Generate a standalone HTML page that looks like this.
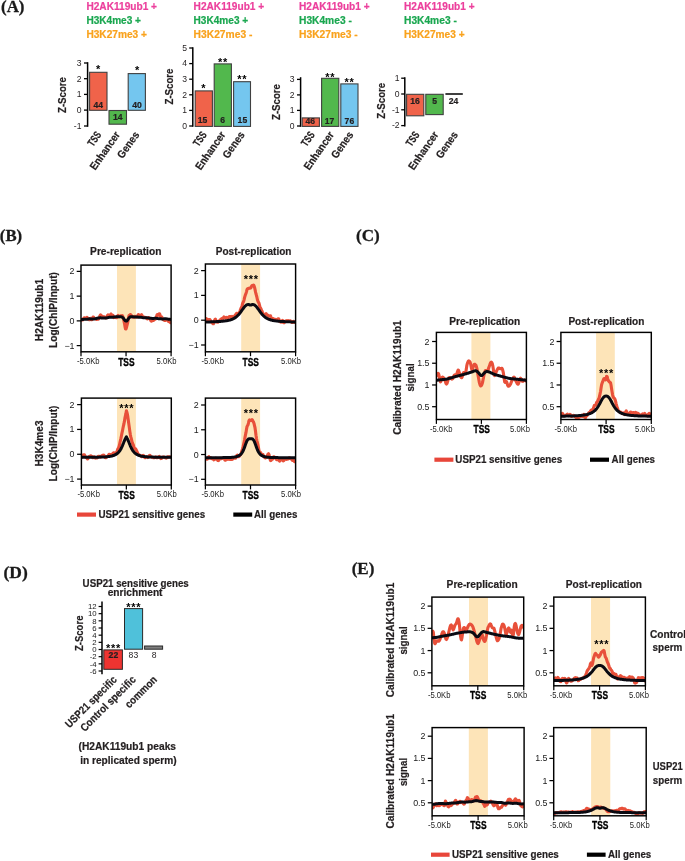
<!DOCTYPE html>
<html lang="en"><head><meta charset="utf-8"><title>Figure</title>
<style>
html,body{margin:0;padding:0;background:#fff;}
body{width:685px;height:861px;overflow:hidden;}
svg{display:block;font-family:"Liberation Sans", sans-serif;}
text{white-space:pre;}
</style></head><body>
<svg width="685" height="861" viewBox="0 0 685 861">
<rect width="685" height="861" fill="#fff"/>
<text x="1.00" y="11.80" font-size="17" font-weight="bold" fill="#1a1a1a" textLength="23.50" lengthAdjust="spacingAndGlyphs" font-family='"Liberation Serif", serif' stroke="#1a1a1a" stroke-width="0.3">(A)</text>
<text x="-0.20" y="241.00" font-size="17" font-weight="bold" fill="#1a1a1a" textLength="22.30" lengthAdjust="spacingAndGlyphs" font-family='"Liberation Serif", serif' stroke="#1a1a1a" stroke-width="0.3">(B)</text>
<text x="356.00" y="240.80" font-size="17" font-weight="bold" fill="#1a1a1a" textLength="23.70" lengthAdjust="spacingAndGlyphs" font-family='"Liberation Serif", serif' stroke="#1a1a1a" stroke-width="0.3">(C)</text>
<text x="3.50" y="578.10" font-size="17" font-weight="bold" fill="#1a1a1a" textLength="24.20" lengthAdjust="spacingAndGlyphs" font-family='"Liberation Serif", serif' stroke="#1a1a1a" stroke-width="0.3">(D)</text>
<text x="351.70" y="574.40" font-size="17" font-weight="bold" fill="#1a1a1a" textLength="22.70" lengthAdjust="spacingAndGlyphs" font-family='"Liberation Serif", serif' stroke="#1a1a1a" stroke-width="0.3">(E)</text>
<text x="86.40" y="9.60" font-size="11" font-weight="bold" fill="#ec3f9c" textLength="70.60" lengthAdjust="spacingAndGlyphs" stroke="#ec3f9c" stroke-width="0.22" stroke-linejoin="round">H2AK119ub1 +</text>
<text x="86.40" y="23.60" font-size="11" font-weight="bold" fill="#1aa750" textLength="54.60" lengthAdjust="spacingAndGlyphs" stroke="#1aa750" stroke-width="0.22" stroke-linejoin="round">H3K4me3 +</text>
<text x="86.40" y="37.60" font-size="11" font-weight="bold" fill="#f9a21c" textLength="60.60" lengthAdjust="spacingAndGlyphs" stroke="#f9a21c" stroke-width="0.22" stroke-linejoin="round">H3K27me3 +</text>
<text x="193.60" y="9.60" font-size="11" font-weight="bold" fill="#ec3f9c" textLength="70.60" lengthAdjust="spacingAndGlyphs" stroke="#ec3f9c" stroke-width="0.22" stroke-linejoin="round">H2AK119ub1 +</text>
<text x="193.60" y="23.60" font-size="11" font-weight="bold" fill="#1aa750" textLength="54.60" lengthAdjust="spacingAndGlyphs" stroke="#1aa750" stroke-width="0.22" stroke-linejoin="round">H3K4me3 +</text>
<text x="193.60" y="37.60" font-size="11" font-weight="bold" fill="#f9a21c" textLength="58.80" lengthAdjust="spacingAndGlyphs" stroke="#f9a21c" stroke-width="0.22" stroke-linejoin="round">H3K27me3 -</text>
<text x="299.00" y="9.60" font-size="11" font-weight="bold" fill="#ec3f9c" textLength="70.60" lengthAdjust="spacingAndGlyphs" stroke="#ec3f9c" stroke-width="0.22" stroke-linejoin="round">H2AK119ub1 +</text>
<text x="299.00" y="23.60" font-size="11" font-weight="bold" fill="#1aa750" textLength="52.80" lengthAdjust="spacingAndGlyphs" stroke="#1aa750" stroke-width="0.22" stroke-linejoin="round">H3K4me3 -</text>
<text x="299.00" y="37.60" font-size="11" font-weight="bold" fill="#f9a21c" textLength="58.80" lengthAdjust="spacingAndGlyphs" stroke="#f9a21c" stroke-width="0.22" stroke-linejoin="round">H3K27me3 -</text>
<text x="404.00" y="9.60" font-size="11" font-weight="bold" fill="#ec3f9c" textLength="70.60" lengthAdjust="spacingAndGlyphs" stroke="#ec3f9c" stroke-width="0.22" stroke-linejoin="round">H2AK119ub1 +</text>
<text x="404.00" y="23.60" font-size="11" font-weight="bold" fill="#1aa750" textLength="52.80" lengthAdjust="spacingAndGlyphs" stroke="#1aa750" stroke-width="0.22" stroke-linejoin="round">H3K4me3 -</text>
<text x="404.00" y="37.60" font-size="11" font-weight="bold" fill="#f9a21c" textLength="60.60" lengthAdjust="spacingAndGlyphs" stroke="#f9a21c" stroke-width="0.22" stroke-linejoin="round">H3K27me3 +</text>
<line x1="87.60" y1="62.20" x2="87.60" y2="126.80" stroke="#000" stroke-width="1.5" stroke-linecap="butt"/>
<line x1="84.00" y1="63.00" x2="87.60" y2="63.00" stroke="#000" stroke-width="1.3" stroke-linecap="butt"/>
<text x="81.50" y="65.80" font-size="8.6" font-weight="normal" fill="#231f20" text-anchor="end">3</text>
<line x1="84.00" y1="78.70" x2="87.60" y2="78.70" stroke="#000" stroke-width="1.3" stroke-linecap="butt"/>
<text x="81.50" y="81.50" font-size="8.6" font-weight="normal" fill="#231f20" text-anchor="end">2</text>
<line x1="84.00" y1="94.40" x2="87.60" y2="94.40" stroke="#000" stroke-width="1.3" stroke-linecap="butt"/>
<text x="81.50" y="97.20" font-size="8.6" font-weight="normal" fill="#231f20" text-anchor="end">1</text>
<line x1="84.00" y1="110.10" x2="87.60" y2="110.10" stroke="#000" stroke-width="1.3" stroke-linecap="butt"/>
<text x="81.50" y="112.90" font-size="8.6" font-weight="normal" fill="#231f20" text-anchor="end">0</text>
<line x1="84.00" y1="126.00" x2="87.60" y2="126.00" stroke="#000" stroke-width="1.3" stroke-linecap="butt"/>
<text x="81.50" y="128.80" font-size="8.6" font-weight="normal" fill="#231f20" text-anchor="end">-1</text>
<text x="65.80" y="95.00" font-size="10.7" font-weight="bold" fill="#231f20" text-anchor="middle" textLength="36.00" lengthAdjust="spacingAndGlyphs" stroke="#231f20" stroke-width="0.22" stroke-linejoin="round" transform="rotate(-90 65.80 95.00)">Z-Score</text>
<rect x="89.60" y="72.30" width="17.40" height="38.00" fill="#f0634a" stroke="#404040" stroke-width="1.1"/>
<rect x="109.00" y="110.50" width="17.50" height="13.70" fill="#52b84d" stroke="#404040" stroke-width="1.1"/>
<rect x="128.20" y="73.60" width="17.20" height="36.70" fill="#74c6ef" stroke="#404040" stroke-width="1.1"/>
<text x="98.20" y="108.10" font-size="8.6" font-weight="bold" fill="#231f20" text-anchor="middle" stroke="#231f20" stroke-width="0.22" stroke-linejoin="round">44</text>
<text x="117.70" y="120.10" font-size="8.6" font-weight="bold" fill="#231f20" text-anchor="middle" stroke="#231f20" stroke-width="0.22" stroke-linejoin="round">14</text>
<text x="137.00" y="108.10" font-size="8.6" font-weight="bold" fill="#231f20" text-anchor="middle" stroke="#231f20" stroke-width="0.22" stroke-linejoin="round">40</text>
<text x="98.55" y="73.00" font-size="11" font-weight="bold" fill="#000" text-anchor="middle" letter-spacing="0.7">*</text>
<text x="137.45" y="74.40" font-size="11" font-weight="bold" fill="#000" text-anchor="middle" letter-spacing="0.7">*</text>
<text x="101.80" y="134.70" font-size="10.9" font-weight="bold" fill="#231f20" text-anchor="end" textLength="15.30" lengthAdjust="spacingAndGlyphs" stroke="#231f20" stroke-width="0.22" stroke-linejoin="round" transform="rotate(-55 101.80 134.70)">TSS</text>
<text x="120.50" y="134.70" font-size="10.9" font-weight="bold" fill="#231f20" text-anchor="end" textLength="44.00" lengthAdjust="spacingAndGlyphs" stroke="#231f20" stroke-width="0.22" stroke-linejoin="round" transform="rotate(-55 120.50 134.70)">Enhancer</text>
<text x="139.80" y="134.70" font-size="10.9" font-weight="bold" fill="#231f20" text-anchor="end" textLength="30.00" lengthAdjust="spacingAndGlyphs" stroke="#231f20" stroke-width="0.22" stroke-linejoin="round" transform="rotate(-55 139.80 134.70)">Genes</text>
<line x1="192.80" y1="47.20" x2="192.80" y2="126.80" stroke="#000" stroke-width="1.5" stroke-linecap="butt"/>
<line x1="189.20" y1="48.00" x2="192.80" y2="48.00" stroke="#000" stroke-width="1.3" stroke-linecap="butt"/>
<text x="187.00" y="50.80" font-size="8.6" font-weight="normal" fill="#231f20" text-anchor="end">5</text>
<line x1="189.20" y1="63.60" x2="192.80" y2="63.60" stroke="#000" stroke-width="1.3" stroke-linecap="butt"/>
<text x="187.00" y="66.40" font-size="8.6" font-weight="normal" fill="#231f20" text-anchor="end">4</text>
<line x1="189.20" y1="79.20" x2="192.80" y2="79.20" stroke="#000" stroke-width="1.3" stroke-linecap="butt"/>
<text x="187.00" y="82.00" font-size="8.6" font-weight="normal" fill="#231f20" text-anchor="end">3</text>
<line x1="189.20" y1="94.80" x2="192.80" y2="94.80" stroke="#000" stroke-width="1.3" stroke-linecap="butt"/>
<text x="187.00" y="97.60" font-size="8.6" font-weight="normal" fill="#231f20" text-anchor="end">2</text>
<line x1="189.20" y1="110.40" x2="192.80" y2="110.40" stroke="#000" stroke-width="1.3" stroke-linecap="butt"/>
<text x="187.00" y="113.20" font-size="8.6" font-weight="normal" fill="#231f20" text-anchor="end">1</text>
<line x1="189.20" y1="126.00" x2="192.80" y2="126.00" stroke="#000" stroke-width="1.3" stroke-linecap="butt"/>
<text x="187.00" y="128.80" font-size="8.6" font-weight="normal" fill="#231f20" text-anchor="end">0</text>
<text x="172.80" y="86.50" font-size="10.7" font-weight="bold" fill="#231f20" text-anchor="middle" textLength="36.00" lengthAdjust="spacingAndGlyphs" stroke="#231f20" stroke-width="0.22" stroke-linejoin="round" transform="rotate(-90 172.80 86.50)">Z-Score</text>
<rect x="195.20" y="90.90" width="17.20" height="35.50" fill="#f0634a" stroke="#404040" stroke-width="1.1"/>
<rect x="214.20" y="63.90" width="17.20" height="62.50" fill="#52b84d" stroke="#404040" stroke-width="1.1"/>
<rect x="233.60" y="81.70" width="16.90" height="44.70" fill="#74c6ef" stroke="#404040" stroke-width="1.1"/>
<text x="202.60" y="122.80" font-size="8.6" font-weight="bold" fill="#231f20" text-anchor="middle" stroke="#231f20" stroke-width="0.22" stroke-linejoin="round">15</text>
<text x="222.60" y="122.80" font-size="8.6" font-weight="bold" fill="#231f20" text-anchor="middle" stroke="#231f20" stroke-width="0.22" stroke-linejoin="round">6</text>
<text x="242.40" y="122.80" font-size="8.6" font-weight="bold" fill="#231f20" text-anchor="middle" stroke="#231f20" stroke-width="0.22" stroke-linejoin="round">15</text>
<text x="203.75" y="92.20" font-size="11" font-weight="bold" fill="#000" text-anchor="middle" letter-spacing="0.7">*</text>
<text x="222.95" y="66.00" font-size="11" font-weight="bold" fill="#000" text-anchor="middle" letter-spacing="0.7">**</text>
<text x="242.35" y="83.20" font-size="11" font-weight="bold" fill="#000" text-anchor="middle" letter-spacing="0.7">**</text>
<text x="207.20" y="134.70" font-size="10.9" font-weight="bold" fill="#231f20" text-anchor="end" textLength="15.30" lengthAdjust="spacingAndGlyphs" stroke="#231f20" stroke-width="0.22" stroke-linejoin="round" transform="rotate(-55 207.20 134.70)">TSS</text>
<text x="226.00" y="134.70" font-size="10.9" font-weight="bold" fill="#231f20" text-anchor="end" textLength="44.00" lengthAdjust="spacingAndGlyphs" stroke="#231f20" stroke-width="0.22" stroke-linejoin="round" transform="rotate(-55 226.00 134.70)">Enhancer</text>
<text x="245.20" y="134.70" font-size="10.9" font-weight="bold" fill="#231f20" text-anchor="end" textLength="30.00" lengthAdjust="spacingAndGlyphs" stroke="#231f20" stroke-width="0.22" stroke-linejoin="round" transform="rotate(-55 245.20 134.70)">Genes</text>
<line x1="300.60" y1="77.20" x2="300.60" y2="126.80" stroke="#000" stroke-width="1.5" stroke-linecap="butt"/>
<line x1="297.00" y1="79.40" x2="300.60" y2="79.40" stroke="#000" stroke-width="1.3" stroke-linecap="butt"/>
<text x="294.50" y="82.20" font-size="8.6" font-weight="normal" fill="#231f20" text-anchor="end">3</text>
<line x1="297.00" y1="94.90" x2="300.60" y2="94.90" stroke="#000" stroke-width="1.3" stroke-linecap="butt"/>
<text x="294.50" y="97.70" font-size="8.6" font-weight="normal" fill="#231f20" text-anchor="end">2</text>
<line x1="297.00" y1="110.40" x2="300.60" y2="110.40" stroke="#000" stroke-width="1.3" stroke-linecap="butt"/>
<text x="294.50" y="113.20" font-size="8.6" font-weight="normal" fill="#231f20" text-anchor="end">1</text>
<line x1="297.00" y1="126.00" x2="300.60" y2="126.00" stroke="#000" stroke-width="1.3" stroke-linecap="butt"/>
<text x="294.50" y="128.80" font-size="8.6" font-weight="normal" fill="#231f20" text-anchor="end">0</text>
<text x="280.40" y="102.00" font-size="10.7" font-weight="bold" fill="#231f20" text-anchor="middle" textLength="36.00" lengthAdjust="spacingAndGlyphs" stroke="#231f20" stroke-width="0.22" stroke-linejoin="round" transform="rotate(-90 280.40 102.00)">Z-Score</text>
<rect x="302.20" y="117.90" width="17.20" height="8.50" fill="#f0634a" stroke="#404040" stroke-width="1.1"/>
<rect x="321.60" y="78.30" width="17.20" height="48.10" fill="#52b84d" stroke="#404040" stroke-width="1.1"/>
<rect x="340.80" y="83.90" width="17.20" height="42.50" fill="#74c6ef" stroke="#404040" stroke-width="1.1"/>
<text x="310.20" y="124.40" font-size="8.6" font-weight="bold" fill="#231f20" text-anchor="middle" stroke="#231f20" stroke-width="0.22" stroke-linejoin="round">46</text>
<text x="329.60" y="124.40" font-size="8.6" font-weight="bold" fill="#231f20" text-anchor="middle" stroke="#231f20" stroke-width="0.22" stroke-linejoin="round">17</text>
<text x="349.40" y="124.40" font-size="8.6" font-weight="bold" fill="#231f20" text-anchor="middle" stroke="#231f20" stroke-width="0.22" stroke-linejoin="round">76</text>
<text x="330.35" y="81.00" font-size="11" font-weight="bold" fill="#000" text-anchor="middle" letter-spacing="0.7">**</text>
<text x="349.55" y="86.20" font-size="11" font-weight="bold" fill="#000" text-anchor="middle" letter-spacing="0.7">**</text>
<text x="315.30" y="134.70" font-size="10.9" font-weight="bold" fill="#231f20" text-anchor="end" textLength="15.30" lengthAdjust="spacingAndGlyphs" stroke="#231f20" stroke-width="0.22" stroke-linejoin="round" transform="rotate(-55 315.30 134.70)">TSS</text>
<text x="334.50" y="134.70" font-size="10.9" font-weight="bold" fill="#231f20" text-anchor="end" textLength="44.00" lengthAdjust="spacingAndGlyphs" stroke="#231f20" stroke-width="0.22" stroke-linejoin="round" transform="rotate(-55 334.50 134.70)">Enhancer</text>
<text x="353.80" y="134.70" font-size="10.9" font-weight="bold" fill="#231f20" text-anchor="end" textLength="30.00" lengthAdjust="spacingAndGlyphs" stroke="#231f20" stroke-width="0.22" stroke-linejoin="round" transform="rotate(-55 353.80 134.70)">Genes</text>
<line x1="404.80" y1="77.20" x2="404.80" y2="126.60" stroke="#000" stroke-width="1.5" stroke-linecap="butt"/>
<line x1="401.20" y1="78.20" x2="404.80" y2="78.20" stroke="#000" stroke-width="1.3" stroke-linecap="butt"/>
<text x="399.60" y="81.00" font-size="8.6" font-weight="normal" fill="#231f20" text-anchor="end">1</text>
<line x1="401.20" y1="94.00" x2="404.80" y2="94.00" stroke="#000" stroke-width="1.3" stroke-linecap="butt"/>
<text x="399.60" y="96.80" font-size="8.6" font-weight="normal" fill="#231f20" text-anchor="end">0</text>
<line x1="401.20" y1="109.80" x2="404.80" y2="109.80" stroke="#000" stroke-width="1.3" stroke-linecap="butt"/>
<text x="399.60" y="112.60" font-size="8.6" font-weight="normal" fill="#231f20" text-anchor="end">-1</text>
<line x1="401.20" y1="125.60" x2="404.80" y2="125.60" stroke="#000" stroke-width="1.3" stroke-linecap="butt"/>
<text x="399.60" y="128.40" font-size="8.6" font-weight="normal" fill="#231f20" text-anchor="end">-2</text>
<text x="385.40" y="100.80" font-size="10.7" font-weight="bold" fill="#231f20" text-anchor="middle" textLength="36.00" lengthAdjust="spacingAndGlyphs" stroke="#231f20" stroke-width="0.22" stroke-linejoin="round" transform="rotate(-90 385.40 100.80)">Z-Score</text>
<rect x="406.60" y="94.30" width="17.20" height="21.50" fill="#f0634a" stroke="#404040" stroke-width="1.1"/>
<rect x="425.80" y="94.30" width="17.40" height="20.30" fill="#52b84d" stroke="#404040" stroke-width="1.1"/>
<line x1="445.40" y1="94.00" x2="462.80" y2="94.00" stroke="#111" stroke-width="1.6" stroke-linecap="butt"/>
<text x="415.00" y="104.00" font-size="8.6" font-weight="bold" fill="#231f20" text-anchor="middle" stroke="#231f20" stroke-width="0.22" stroke-linejoin="round">16</text>
<text x="434.60" y="104.00" font-size="8.6" font-weight="bold" fill="#231f20" text-anchor="middle" stroke="#231f20" stroke-width="0.22" stroke-linejoin="round">5</text>
<text x="453.60" y="104.00" font-size="8.6" font-weight="bold" fill="#231f20" text-anchor="middle" stroke="#231f20" stroke-width="0.22" stroke-linejoin="round">24</text>
<text x="420.00" y="134.70" font-size="10.9" font-weight="bold" fill="#231f20" text-anchor="end" textLength="15.30" lengthAdjust="spacingAndGlyphs" stroke="#231f20" stroke-width="0.22" stroke-linejoin="round" transform="rotate(-55 420.00 134.70)">TSS</text>
<text x="439.00" y="134.70" font-size="10.9" font-weight="bold" fill="#231f20" text-anchor="end" textLength="44.00" lengthAdjust="spacingAndGlyphs" stroke="#231f20" stroke-width="0.22" stroke-linejoin="round" transform="rotate(-55 439.00 134.70)">Enhancer</text>
<text x="458.40" y="134.70" font-size="10.9" font-weight="bold" fill="#231f20" text-anchor="end" textLength="30.00" lengthAdjust="spacingAndGlyphs" stroke="#231f20" stroke-width="0.22" stroke-linejoin="round" transform="rotate(-55 458.40 134.70)">Genes</text>
<rect x="117.00" y="265.10" width="18.90" height="86.70" fill="#fde4b8"/>
<clipPath id="c1"><rect x="81" y="265.1" width="90.1" height="86.69999999999999"/></clipPath><g clip-path="url(#c1)">
<path d="M81.0,319.6 L81.5,319.5 L82.0,320.0 L82.5,320.0 L83.0,319.3 L83.5,318.6 L84.0,318.0 L84.5,317.7 L85.0,317.9 L85.5,318.0 L86.0,318.4 L86.5,318.1 L87.0,317.3 L87.5,317.8 L88.0,319.1 L88.5,318.9 L89.0,318.8 L89.5,319.7 L90.0,319.1 L90.5,318.3 L91.0,319.1 L91.5,319.8 L92.0,319.8 L92.5,318.5 L93.0,317.0 L93.5,317.0 L94.0,317.8 L94.5,318.5 L95.0,318.8 L95.5,318.8 L96.0,319.0 L96.5,319.4 L97.0,319.5 L97.5,319.0 L98.0,318.8 L98.5,319.1 L99.0,318.4 L99.5,317.0 L100.0,315.6 L100.5,314.9 L101.0,315.1 L101.5,316.3 L102.0,317.3 L102.5,316.8 L103.0,316.5 L103.5,317.2 L104.0,317.2 L104.5,316.9 L105.0,317.4 L105.5,317.9 L106.0,317.9 L106.5,318.0 L107.0,317.2 L107.5,315.5 L108.0,314.8 L108.5,315.6 L109.0,316.4 L109.5,316.7 L110.0,316.0 L110.5,314.5 L111.0,314.0 L111.5,314.5 L112.0,315.0 L112.5,315.3 L113.0,315.3 L113.5,316.4 L114.0,317.6 L114.5,317.5 L115.0,317.2 L115.5,317.5 L116.0,317.6 L116.5,317.8 L117.0,317.4 L117.5,315.9 L118.0,315.5 L118.5,316.6 L119.0,316.8 L119.5,316.7 L120.0,316.6 L120.5,315.8 L121.0,315.7 L121.5,316.0 L122.0,315.6 L122.5,315.7 L123.0,317.0 L123.5,319.1 L124.0,321.2 L124.5,323.6 L125.0,326.6 L125.5,328.8 L126.0,329.0 L126.6,327.0 L127.1,324.8 L127.6,323.0 L128.1,320.4 L128.6,317.2 L129.1,315.5 L129.6,315.1 L130.1,314.7 L130.6,314.5 L131.1,315.0 L131.6,315.9 L132.1,316.9 L132.6,317.2 L133.1,317.0 L133.6,317.2 L134.1,317.0 L134.6,316.5 L135.1,316.3 L135.6,316.9 L136.1,317.0 L136.6,317.1 L137.1,317.2 L137.6,316.1 L138.1,314.7 L138.6,314.6 L139.1,315.3 L139.6,315.5 L140.1,315.5 L140.6,315.6 L141.1,315.0 L141.6,314.6 L142.1,315.7 L142.6,316.9 L143.1,317.1 L143.6,317.0 L144.1,317.2 L144.6,317.2 L145.1,317.4 L145.6,317.6 L146.1,317.7 L146.6,318.3 L147.1,318.8 L147.6,318.9 L148.1,318.4 L148.6,317.6 L149.1,317.7 L149.6,318.5 L150.1,319.0 L150.6,320.0 L151.1,321.1 L151.6,321.2 L152.1,320.7 L152.6,320.0 L153.1,320.0 L153.6,320.3 L154.1,319.6 L154.6,319.0 L155.1,319.2 L155.6,319.0 L156.1,318.2 L156.6,316.5 L157.1,314.7 L157.6,314.5 L158.1,315.2 L158.6,314.8 L159.1,313.8 L159.6,313.8 L160.1,315.3 L160.6,316.8 L161.1,316.9 L161.6,316.8 L162.1,317.8 L162.6,318.9 L163.1,319.5 L163.6,319.8 L164.1,320.1 L164.6,320.4 L165.1,320.4 L165.6,319.8 L166.1,319.7 L166.6,320.0 L167.1,320.1 L167.6,320.4 L168.1,321.1 L168.6,321.5 L169.1,321.5 L169.6,321.9 L170.1,322.4 L170.6,322.8 L171.1,322.7" fill="none" stroke="#e8503a" stroke-width="3.1" stroke-linejoin="round" stroke-linecap="butt"/>
<path d="M81.0,319.8 L81.5,319.7 L82.0,319.6 L82.5,319.5 L83.0,319.4 L83.5,319.4 L84.0,319.3 L84.5,319.3 L85.0,319.3 L85.5,319.3 L86.0,319.3 L86.5,319.2 L87.0,319.2 L87.5,319.1 L88.0,319.0 L88.5,318.9 L89.0,318.9 L89.5,318.8 L90.0,318.9 L90.5,318.9 L91.0,318.9 L91.5,319.0 L92.0,319.0 L92.5,319.0 L93.0,319.0 L93.5,319.0 L94.0,319.0 L94.5,318.9 L95.0,318.8 L95.5,318.7 L96.0,318.6 L96.5,318.4 L97.0,318.3 L97.5,318.1 L98.0,318.0 L98.5,317.9 L99.0,317.9 L99.5,317.9 L100.0,317.8 L100.5,317.8 L101.0,317.9 L101.5,317.9 L102.0,317.9 L102.5,317.9 L103.0,317.9 L103.5,318.0 L104.0,318.0 L104.5,318.1 L105.0,318.1 L105.5,318.1 L106.0,318.0 L106.5,317.9 L107.0,317.8 L107.5,317.7 L108.0,317.6 L108.5,317.5 L109.0,317.4 L109.5,317.3 L110.0,317.3 L110.5,317.2 L111.0,317.2 L111.5,317.2 L112.0,317.2 L112.5,317.2 L113.0,317.2 L113.5,317.1 L114.0,317.1 L114.5,317.0 L115.0,317.0 L115.5,316.9 L116.0,316.8 L116.5,316.8 L117.0,316.8 L117.5,316.8 L118.0,316.8 L118.5,316.8 L119.0,316.8 L119.5,316.8 L120.0,316.8 L120.5,316.8 L121.0,316.8 L121.5,316.9 L122.0,317.1 L122.5,317.4 L123.0,317.8 L123.5,318.4 L124.0,319.1 L124.5,319.8 L125.0,320.5 L125.5,320.9 L126.0,321.1 L126.6,321.0 L127.1,320.6 L127.6,319.9 L128.1,319.2 L128.6,318.5 L129.1,317.9 L129.6,317.4 L130.1,317.0 L130.6,316.8 L131.1,316.7 L131.6,316.7 L132.1,316.7 L132.6,316.7 L133.1,316.8 L133.6,316.9 L134.1,316.9 L134.6,317.0 L135.1,317.1 L135.6,317.1 L136.1,317.1 L136.6,317.1 L137.1,317.1 L137.6,317.1 L138.1,317.1 L138.6,317.2 L139.1,317.2 L139.6,317.2 L140.1,317.3 L140.6,317.3 L141.1,317.3 L141.6,317.4 L142.1,317.5 L142.6,317.6 L143.1,317.7 L143.6,317.8 L144.1,317.8 L144.6,317.8 L145.1,317.8 L145.6,317.8 L146.1,317.8 L146.6,317.8 L147.1,317.8 L147.6,317.9 L148.1,318.0 L148.6,318.1 L149.1,318.1 L149.6,318.2 L150.1,318.2 L150.6,318.3 L151.1,318.3 L151.6,318.4 L152.1,318.4 L152.6,318.4 L153.1,318.4 L153.6,318.4 L154.1,318.4 L154.6,318.3 L155.1,318.2 L155.6,318.2 L156.1,318.3 L156.6,318.4 L157.1,318.5 L157.6,318.6 L158.1,318.6 L158.6,318.7 L159.1,318.7 L159.6,318.7 L160.1,318.7 L160.6,318.8 L161.1,318.8 L161.6,318.9 L162.1,318.9 L162.6,318.9 L163.1,318.9 L163.6,318.9 L164.1,318.8 L164.6,318.8 L165.1,318.7 L165.6,318.7 L166.1,318.8 L166.6,318.9 L167.1,319.0 L167.6,319.0 L168.1,319.1 L168.6,319.2 L169.1,319.2 L169.6,319.3 L170.1,319.3 L170.6,319.4 L171.1,319.4" fill="none" stroke="#0a0a12" stroke-width="3.0" stroke-linejoin="round" stroke-linecap="butt"/>
</g>
<rect x="81.00" y="265.10" width="90.10" height="86.70" fill="none" stroke="#000" stroke-width="1.45"/>
<line x1="76.70" y1="271.40" x2="81.00" y2="271.40" stroke="#000" stroke-width="1.25" stroke-linecap="butt"/>
<text x="74.50" y="274.40" font-size="8.9" font-weight="normal" fill="#1a1a1a" text-anchor="end">2</text>
<line x1="76.70" y1="296.13" x2="81.00" y2="296.13" stroke="#000" stroke-width="1.25" stroke-linecap="butt"/>
<text x="74.50" y="299.13" font-size="8.9" font-weight="normal" fill="#1a1a1a" text-anchor="end">1</text>
<line x1="76.70" y1="320.87" x2="81.00" y2="320.87" stroke="#000" stroke-width="1.25" stroke-linecap="butt"/>
<text x="74.50" y="323.87" font-size="8.9" font-weight="normal" fill="#1a1a1a" text-anchor="end">0</text>
<line x1="76.70" y1="345.60" x2="81.00" y2="345.60" stroke="#000" stroke-width="1.25" stroke-linecap="butt"/>
<text x="74.50" y="348.60" font-size="8.9" font-weight="normal" fill="#1a1a1a" text-anchor="end">−1</text>
<line x1="81.00" y1="351.80" x2="81.00" y2="356.20" stroke="#000" stroke-width="1.25" stroke-linecap="butt"/>
<line x1="126.05" y1="351.80" x2="126.05" y2="356.20" stroke="#000" stroke-width="1.25" stroke-linecap="butt"/>
<line x1="171.10" y1="351.80" x2="171.10" y2="356.20" stroke="#000" stroke-width="1.25" stroke-linecap="butt"/>
<text x="77.00" y="364.40" font-size="8.4" font-weight="normal" fill="#1a1a1a" textLength="22.60" lengthAdjust="spacingAndGlyphs">-5.0Kb</text>
<text x="156.60" y="364.40" font-size="8.4" font-weight="normal" fill="#1a1a1a" textLength="20.00" lengthAdjust="spacingAndGlyphs">5.0Kb</text>
<text x="126.35" y="365.70" font-size="11.2" font-weight="bold" fill="#000" text-anchor="middle" textLength="16.40" lengthAdjust="spacingAndGlyphs" stroke="#000" stroke-width="0.35" stroke-linejoin="round">TSS</text>
<rect x="241.20" y="264.00" width="18.90" height="87.80" fill="#fde4b8"/>
<clipPath id="c2"><rect x="205.4" y="264" width="90.20000000000002" height="87.80000000000001"/></clipPath><g clip-path="url(#c2)">
<path d="M205.4,320.2 L205.9,319.2 L206.4,318.7 L206.9,319.4 L207.4,319.8 L207.9,319.8 L208.4,319.6 L208.9,319.7 L209.4,319.7 L209.9,319.5 L210.4,320.3 L210.9,321.4 L211.4,322.2 L211.9,322.6 L212.4,323.0 L212.9,323.7 L213.4,323.8 L213.9,322.6 L214.4,321.1 L214.9,319.6 L215.4,319.1 L215.9,320.2 L216.4,321.1 L216.9,321.6 L217.4,322.2 L217.9,322.2 L218.4,321.8 L218.9,321.2 L219.4,320.9 L219.9,320.4 L220.4,319.7 L220.9,319.3 L221.4,318.9 L221.9,318.4 L222.4,318.3 L222.9,318.4 L223.4,317.8 L223.9,316.9 L224.4,317.1 L224.9,317.9 L225.4,318.1 L225.9,317.8 L226.4,317.4 L226.9,317.6 L227.4,318.3 L228.0,318.3 L228.5,317.5 L229.0,316.7 L229.5,316.6 L230.0,316.5 L230.5,316.6 L231.0,316.8 L231.5,316.6 L232.0,316.4 L232.5,316.6 L233.0,317.2 L233.5,317.7 L234.0,317.2 L234.5,316.2 L235.0,315.5 L235.5,314.8 L236.0,314.1 L236.5,313.5 L237.0,313.3 L237.5,313.7 L238.0,314.1 L238.5,314.2 L239.0,313.4 L239.5,312.2 L240.0,311.0 L240.5,309.5 L241.0,308.2 L241.5,307.2 L242.0,306.0 L242.5,304.0 L243.0,302.4 L243.5,301.8 L244.0,300.1 L244.5,297.8 L245.0,296.1 L245.5,294.5 L246.0,293.3 L246.5,291.6 L247.0,289.6 L247.5,288.7 L248.0,288.6 L248.5,288.5 L249.0,288.3 L249.5,288.0 L250.0,288.0 L250.5,288.1 L251.0,287.6 L251.5,286.3 L252.0,285.5 L252.5,285.6 L253.0,285.3 L253.5,285.0 L254.0,285.7 L254.5,287.2 L255.0,289.4 L255.5,291.9 L256.0,294.0 L256.5,295.6 L257.0,297.7 L257.5,300.1 L258.0,301.6 L258.5,302.5 L259.0,303.2 L259.5,305.1 L260.0,307.1 L260.5,308.1 L261.0,308.9 L261.5,310.2 L262.0,311.1 L262.5,312.5 L263.0,314.4 L263.5,315.1 L264.0,314.5 L264.5,314.7 L265.0,314.8 L265.5,314.0 L266.0,313.6 L266.5,314.2 L267.0,314.9 L267.5,315.1 L268.0,315.3 L268.5,316.0 L269.0,316.3 L269.5,316.1 L270.0,315.7 L270.5,315.8 L271.0,317.1 L271.5,318.1 L272.0,318.2 L272.5,318.2 L273.1,318.6 L273.6,318.9 L274.1,319.2 L274.6,319.3 L275.1,319.3 L275.6,319.4 L276.1,319.6 L276.6,319.9 L277.1,319.8 L277.6,319.1 L278.1,318.7 L278.6,318.8 L279.1,319.8 L279.6,321.2 L280.1,321.8 L280.6,321.8 L281.1,322.2 L281.6,321.9 L282.1,320.8 L282.6,320.4 L283.1,321.4 L283.6,322.7 L284.1,322.8 L284.6,321.8 L285.1,321.3 L285.6,320.9 L286.1,320.8 L286.6,320.9 L287.1,320.7 L287.6,320.7 L288.1,320.6 L288.6,320.9 L289.1,321.4 L289.6,321.4 L290.1,320.8 L290.6,321.0 L291.1,321.6 L291.6,322.1 L292.1,322.5 L292.6,322.5 L293.1,321.7 L293.6,321.4 L294.1,322.0 L294.6,322.5 L295.1,322.2 L295.6,321.8" fill="none" stroke="#e8503a" stroke-width="3.1" stroke-linejoin="round" stroke-linecap="butt"/>
<path d="M205.4,321.9 L205.9,321.9 L206.4,321.9 L206.9,321.9 L207.4,321.9 L207.9,321.9 L208.4,321.9 L208.9,321.9 L209.4,321.9 L209.9,321.9 L210.4,321.9 L210.9,321.8 L211.4,321.8 L211.9,321.8 L212.4,321.8 L212.9,321.8 L213.4,321.8 L213.9,321.7 L214.4,321.7 L214.9,321.7 L215.4,321.7 L215.9,321.7 L216.4,321.6 L216.9,321.6 L217.4,321.6 L217.9,321.6 L218.4,321.5 L218.9,321.5 L219.4,321.5 L219.9,321.5 L220.4,321.4 L220.9,321.4 L221.4,321.3 L221.9,321.3 L222.4,321.2 L222.9,321.2 L223.4,321.1 L223.9,321.1 L224.4,321.0 L224.9,321.0 L225.4,320.9 L225.9,320.8 L226.4,320.7 L226.9,320.7 L227.4,320.6 L228.0,320.5 L228.5,320.4 L229.0,320.2 L229.5,320.1 L230.0,320.0 L230.5,319.8 L231.0,319.7 L231.5,319.5 L232.0,319.3 L232.5,319.1 L233.0,318.9 L233.5,318.6 L234.0,318.4 L234.5,318.1 L235.0,317.8 L235.5,317.4 L236.0,317.1 L236.5,316.7 L237.0,316.3 L237.5,315.8 L238.0,315.3 L238.5,314.8 L239.0,314.2 L239.5,313.6 L240.0,313.0 L240.5,312.3 L241.0,311.6 L241.5,310.9 L242.0,310.2 L242.5,309.5 L243.0,308.8 L243.5,308.1 L244.0,307.5 L244.5,306.8 L245.0,306.3 L245.5,305.8 L246.0,305.4 L246.5,305.0 L247.0,304.7 L247.5,304.6 L248.0,304.5 L248.5,304.5 L249.0,304.7 L249.5,304.8 L250.0,305.0 L250.5,305.1 L251.0,305.0 L251.5,304.8 L252.0,304.7 L252.5,304.5 L253.0,304.5 L253.5,304.6 L254.0,304.7 L254.5,305.0 L255.0,305.4 L255.5,305.8 L256.0,306.3 L256.5,306.8 L257.0,307.5 L257.5,308.1 L258.0,308.8 L258.5,309.5 L259.0,310.2 L259.5,310.9 L260.0,311.6 L260.5,312.3 L261.0,313.0 L261.5,313.6 L262.0,314.2 L262.5,314.8 L263.0,315.3 L263.5,315.8 L264.0,316.3 L264.5,316.7 L265.0,317.1 L265.5,317.4 L266.0,317.8 L266.5,318.1 L267.0,318.4 L267.5,318.6 L268.0,318.9 L268.5,319.1 L269.0,319.3 L269.5,319.5 L270.0,319.7 L270.5,319.8 L271.0,320.0 L271.5,320.1 L272.0,320.2 L272.5,320.4 L273.1,320.5 L273.6,320.6 L274.1,320.7 L274.6,320.7 L275.1,320.8 L275.6,320.9 L276.1,321.0 L276.6,321.0 L277.1,321.1 L277.6,321.1 L278.1,321.2 L278.6,321.2 L279.1,321.3 L279.6,321.3 L280.1,321.4 L280.6,321.4 L281.1,321.5 L281.6,321.5 L282.1,321.5 L282.6,321.5 L283.1,321.6 L283.6,321.6 L284.1,321.6 L284.6,321.6 L285.1,321.7 L285.6,321.7 L286.1,321.7 L286.6,321.7 L287.1,321.7 L287.6,321.8 L288.1,321.8 L288.6,321.8 L289.1,321.8 L289.6,321.8 L290.1,321.8 L290.6,321.9 L291.1,321.9 L291.6,321.9 L292.1,321.9 L292.6,321.9 L293.1,321.9 L293.6,321.9 L294.1,321.9 L294.6,321.9 L295.1,321.9 L295.6,321.9" fill="none" stroke="#0a0a12" stroke-width="3.0" stroke-linejoin="round" stroke-linecap="butt"/>
</g>
<rect x="205.40" y="264.00" width="90.20" height="87.80" fill="none" stroke="#000" stroke-width="1.45"/>
<line x1="201.10" y1="270.60" x2="205.40" y2="270.60" stroke="#000" stroke-width="1.25" stroke-linecap="butt"/>
<text x="198.70" y="273.60" font-size="8.9" font-weight="normal" fill="#1a1a1a" text-anchor="end">2</text>
<line x1="201.10" y1="295.40" x2="205.40" y2="295.40" stroke="#000" stroke-width="1.25" stroke-linecap="butt"/>
<text x="198.70" y="298.40" font-size="8.9" font-weight="normal" fill="#1a1a1a" text-anchor="end">1</text>
<line x1="201.10" y1="320.20" x2="205.40" y2="320.20" stroke="#000" stroke-width="1.25" stroke-linecap="butt"/>
<text x="198.70" y="323.20" font-size="8.9" font-weight="normal" fill="#1a1a1a" text-anchor="end">0</text>
<line x1="201.10" y1="345.00" x2="205.40" y2="345.00" stroke="#000" stroke-width="1.25" stroke-linecap="butt"/>
<text x="198.70" y="348.00" font-size="8.9" font-weight="normal" fill="#1a1a1a" text-anchor="end">−1</text>
<line x1="205.40" y1="351.80" x2="205.40" y2="356.20" stroke="#000" stroke-width="1.25" stroke-linecap="butt"/>
<line x1="250.50" y1="351.80" x2="250.50" y2="356.20" stroke="#000" stroke-width="1.25" stroke-linecap="butt"/>
<line x1="295.60" y1="351.80" x2="295.60" y2="356.20" stroke="#000" stroke-width="1.25" stroke-linecap="butt"/>
<text x="201.40" y="364.40" font-size="8.4" font-weight="normal" fill="#1a1a1a" textLength="22.60" lengthAdjust="spacingAndGlyphs">-5.0Kb</text>
<text x="281.10" y="364.40" font-size="8.4" font-weight="normal" fill="#1a1a1a" textLength="20.00" lengthAdjust="spacingAndGlyphs">5.0Kb</text>
<text x="250.80" y="365.70" font-size="11.2" font-weight="bold" fill="#000" text-anchor="middle" textLength="16.40" lengthAdjust="spacingAndGlyphs" stroke="#000" stroke-width="0.35" stroke-linejoin="round">TSS</text>
<text x="251.15" y="283.00" font-size="11" font-weight="bold" fill="#000" text-anchor="middle" letter-spacing="0.7">***</text>
<rect x="117.00" y="398.10" width="18.90" height="86.90" fill="#fde4b8"/>
<clipPath id="c3"><rect x="81.4" y="398.1" width="89.9" height="86.89999999999998"/></clipPath><g clip-path="url(#c3)">
<path d="M81.4,458.0 L81.9,457.0 L82.4,455.9 L82.9,455.2 L83.4,454.9 L83.9,454.7 L84.4,454.8 L84.9,455.7 L85.4,456.7 L85.9,457.3 L86.4,457.3 L86.9,457.8 L87.4,459.0 L87.9,458.8 L88.4,457.4 L88.9,456.6 L89.4,456.4 L89.9,456.3 L90.4,455.9 L90.9,455.7 L91.4,456.1 L91.9,456.7 L92.4,457.3 L92.9,457.7 L93.4,457.2 L93.9,456.8 L94.4,456.8 L94.9,457.3 L95.4,458.1 L95.9,457.9 L96.4,457.7 L96.9,458.0 L97.4,457.6 L97.9,456.7 L98.4,456.3 L98.9,456.3 L99.4,456.5 L99.9,457.1 L100.4,457.2 L100.9,456.9 L101.4,456.1 L101.9,455.6 L102.4,455.4 L102.9,455.4 L103.4,455.1 L103.9,455.3 L104.4,456.3 L104.9,457.1 L105.4,457.7 L105.9,457.8 L106.4,457.2 L106.9,456.7 L107.4,456.7 L107.9,456.2 L108.4,455.3 L108.9,454.5 L109.4,454.3 L109.9,454.6 L110.4,454.7 L110.9,454.6 L111.4,454.4 L111.9,454.2 L112.4,454.0 L112.9,453.6 L113.4,452.9 L113.9,452.7 L114.4,453.2 L114.9,453.3 L115.4,452.8 L115.9,452.7 L116.4,452.7 L116.9,451.9 L117.4,450.2 L117.9,448.8 L118.4,448.0 L118.9,447.0 L119.4,445.2 L119.9,442.8 L120.4,440.5 L120.9,438.4 L121.4,436.0 L121.9,433.4 L122.4,431.2 L122.9,428.5 L123.4,426.0 L123.9,424.0 L124.4,421.4 L124.9,418.2 L125.4,415.9 L125.9,413.7 L126.4,410.7 L126.8,412.0 L127.3,413.9 L127.8,416.6 L128.3,420.2 L128.8,423.9 L129.3,427.4 L129.8,431.1 L130.3,434.3 L130.8,436.9 L131.3,438.7 L131.8,440.8 L132.3,442.8 L132.8,443.8 L133.3,444.9 L133.8,446.7 L134.3,448.3 L134.8,448.8 L135.3,448.6 L135.8,449.1 L136.3,450.3 L136.8,451.2 L137.3,452.2 L137.8,453.5 L138.3,454.3 L138.8,454.6 L139.3,454.9 L139.8,455.3 L140.3,455.6 L140.8,455.7 L141.3,456.3 L141.8,456.7 L142.3,456.4 L142.8,455.7 L143.3,455.4 L143.8,455.9 L144.3,456.9 L144.8,457.7 L145.3,457.7 L145.8,457.4 L146.3,457.2 L146.8,456.9 L147.3,457.2 L147.8,457.6 L148.3,457.2 L148.8,456.2 L149.3,455.6 L149.8,455.3 L150.3,455.7 L150.8,456.5 L151.3,456.9 L151.8,457.1 L152.3,457.5 L152.8,457.6 L153.3,457.4 L153.8,457.5 L154.3,457.7 L154.8,457.4 L155.3,457.0 L155.8,456.9 L156.3,457.5 L156.8,457.8 L157.3,457.8 L157.8,457.6 L158.3,457.1 L158.8,456.6 L159.3,456.4 L159.8,457.0 L160.3,458.0 L160.8,458.6 L161.3,458.5 L161.8,457.8 L162.3,457.3 L162.8,457.1 L163.3,457.0 L163.8,456.9 L164.3,457.1 L164.8,457.6 L165.3,457.8 L165.8,457.8 L166.3,458.1 L166.8,457.9 L167.3,456.9 L167.8,456.8 L168.3,457.1 L168.8,456.8 L169.3,456.8 L169.8,457.0 L170.3,457.0 L170.8,456.9 L171.3,456.7" fill="none" stroke="#e8503a" stroke-width="3.1" stroke-linejoin="round" stroke-linecap="butt"/>
<path d="M81.4,457.3 L81.9,457.3 L82.4,457.3 L82.9,457.3 L83.4,457.3 L83.9,457.3 L84.4,457.3 L84.9,457.3 L85.4,457.3 L85.9,457.3 L86.4,457.3 L86.9,457.3 L87.4,457.3 L87.9,457.3 L88.4,457.3 L88.9,457.3 L89.4,457.3 L89.9,457.3 L90.4,457.3 L90.9,457.3 L91.4,457.3 L91.9,457.3 L92.4,457.3 L92.9,457.3 L93.4,457.3 L93.9,457.2 L94.4,457.2 L94.9,457.2 L95.4,457.2 L95.9,457.2 L96.4,457.2 L96.9,457.2 L97.4,457.2 L97.9,457.2 L98.4,457.2 L98.9,457.2 L99.4,457.1 L99.9,457.1 L100.4,457.1 L100.9,457.1 L101.4,457.1 L101.9,457.1 L102.4,457.0 L102.9,457.0 L103.4,457.0 L103.9,457.0 L104.4,456.9 L104.9,456.9 L105.4,456.9 L105.9,456.8 L106.4,456.8 L106.9,456.7 L107.4,456.7 L107.9,456.6 L108.4,456.6 L108.9,456.5 L109.4,456.4 L109.9,456.4 L110.4,456.3 L110.9,456.2 L111.4,456.1 L111.9,456.0 L112.4,455.8 L112.9,455.7 L113.4,455.5 L113.9,455.3 L114.4,455.2 L114.9,454.9 L115.4,454.7 L115.9,454.4 L116.4,454.1 L116.9,453.8 L117.4,453.4 L117.9,453.0 L118.4,452.5 L118.9,451.9 L119.4,451.3 L119.9,450.6 L120.4,449.8 L120.9,448.9 L121.4,448.0 L121.9,446.9 L122.4,445.8 L122.9,444.5 L123.4,443.3 L123.9,442.0 L124.4,440.8 L124.9,439.7 L125.4,438.7 L125.9,437.7 L126.4,436.8 L126.8,437.7 L127.3,438.7 L127.8,439.7 L128.3,440.8 L128.8,442.0 L129.3,443.3 L129.8,444.5 L130.3,445.8 L130.8,446.9 L131.3,448.0 L131.8,448.9 L132.3,449.8 L132.8,450.6 L133.3,451.3 L133.8,451.9 L134.3,452.5 L134.8,453.0 L135.3,453.4 L135.8,453.8 L136.3,454.1 L136.8,454.4 L137.3,454.7 L137.8,454.9 L138.3,455.2 L138.8,455.3 L139.3,455.5 L139.8,455.7 L140.3,455.8 L140.8,456.0 L141.3,456.1 L141.8,456.2 L142.3,456.3 L142.8,456.4 L143.3,456.4 L143.8,456.5 L144.3,456.6 L144.8,456.6 L145.3,456.7 L145.8,456.7 L146.3,456.8 L146.8,456.8 L147.3,456.9 L147.8,456.9 L148.3,456.9 L148.8,457.0 L149.3,457.0 L149.8,457.0 L150.3,457.0 L150.8,457.1 L151.3,457.1 L151.8,457.1 L152.3,457.1 L152.8,457.1 L153.3,457.1 L153.8,457.2 L154.3,457.2 L154.8,457.2 L155.3,457.2 L155.8,457.2 L156.3,457.2 L156.8,457.2 L157.3,457.2 L157.8,457.2 L158.3,457.2 L158.8,457.2 L159.3,457.3 L159.8,457.3 L160.3,457.3 L160.8,457.3 L161.3,457.3 L161.8,457.3 L162.3,457.3 L162.8,457.3 L163.3,457.3 L163.8,457.3 L164.3,457.3 L164.8,457.3 L165.3,457.3 L165.8,457.3 L166.3,457.3 L166.8,457.3 L167.3,457.3 L167.8,457.3 L168.3,457.3 L168.8,457.3 L169.3,457.3 L169.8,457.3 L170.3,457.3 L170.8,457.3 L171.3,457.3" fill="none" stroke="#0a0a12" stroke-width="3.0" stroke-linejoin="round" stroke-linecap="butt"/>
</g>
<rect x="81.40" y="398.10" width="89.90" height="86.90" fill="none" stroke="#000" stroke-width="1.45"/>
<line x1="77.10" y1="404.60" x2="81.40" y2="404.60" stroke="#000" stroke-width="1.25" stroke-linecap="butt"/>
<text x="74.50" y="407.60" font-size="8.9" font-weight="normal" fill="#1a1a1a" text-anchor="end">2</text>
<line x1="77.10" y1="429.43" x2="81.40" y2="429.43" stroke="#000" stroke-width="1.25" stroke-linecap="butt"/>
<text x="74.50" y="432.43" font-size="8.9" font-weight="normal" fill="#1a1a1a" text-anchor="end">1</text>
<line x1="77.10" y1="454.27" x2="81.40" y2="454.27" stroke="#000" stroke-width="1.25" stroke-linecap="butt"/>
<text x="74.50" y="457.27" font-size="8.9" font-weight="normal" fill="#1a1a1a" text-anchor="end">0</text>
<line x1="77.10" y1="479.10" x2="81.40" y2="479.10" stroke="#000" stroke-width="1.25" stroke-linecap="butt"/>
<text x="74.50" y="482.10" font-size="8.9" font-weight="normal" fill="#1a1a1a" text-anchor="end">−1</text>
<line x1="81.40" y1="485.00" x2="81.40" y2="489.40" stroke="#000" stroke-width="1.25" stroke-linecap="butt"/>
<line x1="126.35" y1="485.00" x2="126.35" y2="489.40" stroke="#000" stroke-width="1.25" stroke-linecap="butt"/>
<line x1="171.30" y1="485.00" x2="171.30" y2="489.40" stroke="#000" stroke-width="1.25" stroke-linecap="butt"/>
<text x="77.40" y="497.20" font-size="8.4" font-weight="normal" fill="#1a1a1a" textLength="22.60" lengthAdjust="spacingAndGlyphs">-5.0Kb</text>
<text x="156.80" y="497.20" font-size="8.4" font-weight="normal" fill="#1a1a1a" textLength="20.00" lengthAdjust="spacingAndGlyphs">5.0Kb</text>
<text x="126.65" y="498.50" font-size="11.2" font-weight="bold" fill="#000" text-anchor="middle" textLength="16.40" lengthAdjust="spacingAndGlyphs" stroke="#000" stroke-width="0.35" stroke-linejoin="round">TSS</text>
<text x="126.75" y="411.60" font-size="11" font-weight="bold" fill="#000" text-anchor="middle" letter-spacing="0.7">***</text>
<rect x="241.20" y="398.10" width="18.90" height="86.90" fill="#fde4b8"/>
<clipPath id="c4"><rect x="205.4" y="398.1" width="90.20000000000002" height="86.89999999999998"/></clipPath><g clip-path="url(#c4)">
<path d="M205.4,458.6 L205.9,459.3 L206.4,459.3 L206.9,459.2 L207.4,459.0 L207.9,458.0 L208.4,457.0 L208.9,456.7 L209.4,457.5 L209.9,458.1 L210.4,457.6 L210.9,457.7 L211.4,458.6 L211.9,458.7 L212.4,458.5 L212.9,458.7 L213.4,459.5 L213.9,459.8 L214.4,459.4 L214.9,459.2 L215.4,458.8 L215.9,458.2 L216.4,458.8 L216.9,459.2 L217.4,459.8 L217.9,460.5 L218.4,460.6 L218.9,460.1 L219.4,459.2 L219.9,458.4 L220.4,458.4 L220.9,458.6 L221.4,458.6 L221.9,458.3 L222.4,457.9 L222.9,457.8 L223.4,457.9 L223.9,458.1 L224.4,459.0 L224.9,460.0 L225.4,460.2 L225.9,459.3 L226.4,458.1 L226.9,457.6 L227.4,458.4 L228.0,459.4 L228.5,459.2 L229.0,458.9 L229.5,459.2 L230.0,459.5 L230.5,459.4 L231.0,458.7 L231.5,458.6 L232.0,459.4 L232.5,459.3 L233.0,458.0 L233.5,457.6 L234.0,458.0 L234.5,458.2 L235.0,458.2 L235.5,458.2 L236.0,457.8 L236.5,456.7 L237.0,455.3 L237.5,455.0 L238.0,455.6 L238.5,456.5 L239.0,456.7 L239.5,456.0 L240.0,455.1 L240.5,454.6 L241.0,453.7 L241.5,452.3 L242.0,450.5 L242.5,449.0 L243.0,447.2 L243.5,444.9 L244.0,442.5 L244.5,440.1 L245.0,437.4 L245.5,434.8 L246.0,432.4 L246.5,429.3 L247.0,426.6 L247.5,425.6 L248.0,424.9 L248.5,422.9 L249.0,420.6 L249.5,419.9 L250.0,420.5 L250.5,420.4 L251.0,420.4 L251.5,420.2 L252.0,419.7 L252.5,420.2 L253.0,421.3 L253.5,422.0 L254.0,423.4 L254.5,425.6 L255.0,427.7 L255.5,431.2 L256.0,435.3 L256.5,438.6 L257.0,441.1 L257.5,443.0 L258.0,445.2 L258.5,447.7 L259.0,450.7 L259.5,452.1 L260.0,452.0 L260.5,452.6 L261.0,453.8 L261.5,454.5 L262.0,454.6 L262.5,454.3 L263.0,454.6 L263.5,455.8 L264.0,457.0 L264.5,457.2 L265.0,457.3 L265.5,457.9 L266.0,457.8 L266.5,457.2 L267.0,456.7 L267.5,455.4 L268.0,454.1 L268.5,453.7 L269.0,454.5 L269.5,456.7 L270.0,459.0 L270.5,460.6 L271.0,460.5 L271.5,459.6 L272.0,459.4 L272.5,459.3 L273.1,458.2 L273.6,456.7 L274.1,456.7 L274.6,457.7 L275.1,458.2 L275.6,458.1 L276.1,458.9 L276.6,459.7 L277.1,459.7 L277.6,459.4 L278.1,458.8 L278.6,458.9 L279.1,460.5 L279.6,461.2 L280.1,460.0 L280.6,459.4 L281.1,459.5 L281.6,459.1 L282.1,459.5 L282.6,460.4 L283.1,460.9 L283.6,460.8 L284.1,460.2 L284.6,459.4 L285.1,458.9 L285.6,458.7 L286.1,458.9 L286.6,459.4 L287.1,459.1 L287.6,458.8 L288.1,459.0 L288.6,458.6 L289.1,457.7 L289.6,457.7 L290.1,458.4 L290.6,458.6 L291.1,458.7 L291.6,459.3 L292.1,460.1 L292.6,460.4 L293.1,460.2 L293.6,460.0 L294.1,460.8 L294.6,461.7 L295.1,461.8 L295.6,461.5" fill="none" stroke="#e8503a" stroke-width="3.1" stroke-linejoin="round" stroke-linecap="butt"/>
<path d="M205.4,457.7 L205.9,457.7 L206.4,457.7 L206.9,457.7 L207.4,457.7 L207.9,457.7 L208.4,457.7 L208.9,457.7 L209.4,457.7 L209.9,457.7 L210.4,457.7 L210.9,457.7 L211.4,457.7 L211.9,457.7 L212.4,457.7 L212.9,457.7 L213.4,457.7 L213.9,457.7 L214.4,457.7 L214.9,457.7 L215.4,457.7 L215.9,457.7 L216.4,457.7 L216.9,457.7 L217.4,457.7 L217.9,457.7 L218.4,457.7 L218.9,457.7 L219.4,457.7 L219.9,457.7 L220.4,457.7 L220.9,457.7 L221.4,457.7 L221.9,457.7 L222.4,457.7 L222.9,457.6 L223.4,457.6 L223.9,457.6 L224.4,457.6 L224.9,457.6 L225.4,457.6 L225.9,457.6 L226.4,457.6 L226.9,457.6 L227.4,457.6 L228.0,457.5 L228.5,457.5 L229.0,457.5 L229.5,457.5 L230.0,457.5 L230.5,457.4 L231.0,457.4 L231.5,457.4 L232.0,457.3 L232.5,457.3 L233.0,457.2 L233.5,457.2 L234.0,457.1 L234.5,457.0 L235.0,457.0 L235.5,456.9 L236.0,456.8 L236.5,456.7 L237.0,456.5 L237.5,456.4 L238.0,456.2 L238.5,455.9 L239.0,455.7 L239.5,455.4 L240.0,455.0 L240.5,454.6 L241.0,454.1 L241.5,453.5 L242.0,452.8 L242.5,452.0 L243.0,451.0 L243.5,450.0 L244.0,448.7 L244.5,447.4 L245.0,446.0 L245.5,444.6 L246.0,443.2 L246.5,441.9 L247.0,440.8 L247.5,440.0 L248.0,439.4 L248.5,439.0 L249.0,438.8 L249.5,438.7 L250.0,438.7 L250.5,438.7 L251.0,438.7 L251.5,438.7 L252.0,438.8 L252.5,439.0 L253.0,439.4 L253.5,440.0 L254.0,440.8 L254.5,441.9 L255.0,443.2 L255.5,444.6 L256.0,446.0 L256.5,447.4 L257.0,448.7 L257.5,450.0 L258.0,451.0 L258.5,452.0 L259.0,452.8 L259.5,453.5 L260.0,454.1 L260.5,454.6 L261.0,455.0 L261.5,455.4 L262.0,455.7 L262.5,455.9 L263.0,456.2 L263.5,456.4 L264.0,456.5 L264.5,456.7 L265.0,456.8 L265.5,456.9 L266.0,457.0 L266.5,457.0 L267.0,457.1 L267.5,457.2 L268.0,457.2 L268.5,457.3 L269.0,457.3 L269.5,457.4 L270.0,457.4 L270.5,457.4 L271.0,457.5 L271.5,457.5 L272.0,457.5 L272.5,457.5 L273.1,457.5 L273.6,457.6 L274.1,457.6 L274.6,457.6 L275.1,457.6 L275.6,457.6 L276.1,457.6 L276.6,457.6 L277.1,457.6 L277.6,457.6 L278.1,457.6 L278.6,457.7 L279.1,457.7 L279.6,457.7 L280.1,457.7 L280.6,457.7 L281.1,457.7 L281.6,457.7 L282.1,457.7 L282.6,457.7 L283.1,457.7 L283.6,457.7 L284.1,457.7 L284.6,457.7 L285.1,457.7 L285.6,457.7 L286.1,457.7 L286.6,457.7 L287.1,457.7 L287.6,457.7 L288.1,457.7 L288.6,457.7 L289.1,457.7 L289.6,457.7 L290.1,457.7 L290.6,457.7 L291.1,457.7 L291.6,457.7 L292.1,457.7 L292.6,457.7 L293.1,457.7 L293.6,457.7 L294.1,457.7 L294.6,457.7 L295.1,457.7 L295.6,457.7" fill="none" stroke="#0a0a12" stroke-width="3.0" stroke-linejoin="round" stroke-linecap="butt"/>
</g>
<rect x="205.40" y="398.10" width="90.20" height="86.90" fill="none" stroke="#000" stroke-width="1.45"/>
<line x1="201.10" y1="405.00" x2="205.40" y2="405.00" stroke="#000" stroke-width="1.25" stroke-linecap="butt"/>
<text x="198.70" y="408.00" font-size="8.9" font-weight="normal" fill="#1a1a1a" text-anchor="end">2</text>
<line x1="201.10" y1="429.77" x2="205.40" y2="429.77" stroke="#000" stroke-width="1.25" stroke-linecap="butt"/>
<text x="198.70" y="432.77" font-size="8.9" font-weight="normal" fill="#1a1a1a" text-anchor="end">1</text>
<line x1="201.10" y1="454.53" x2="205.40" y2="454.53" stroke="#000" stroke-width="1.25" stroke-linecap="butt"/>
<text x="198.70" y="457.53" font-size="8.9" font-weight="normal" fill="#1a1a1a" text-anchor="end">0</text>
<line x1="201.10" y1="479.30" x2="205.40" y2="479.30" stroke="#000" stroke-width="1.25" stroke-linecap="butt"/>
<text x="198.70" y="482.30" font-size="8.9" font-weight="normal" fill="#1a1a1a" text-anchor="end">−1</text>
<line x1="205.40" y1="485.00" x2="205.40" y2="489.40" stroke="#000" stroke-width="1.25" stroke-linecap="butt"/>
<line x1="250.50" y1="485.00" x2="250.50" y2="489.40" stroke="#000" stroke-width="1.25" stroke-linecap="butt"/>
<line x1="295.60" y1="485.00" x2="295.60" y2="489.40" stroke="#000" stroke-width="1.25" stroke-linecap="butt"/>
<text x="201.40" y="497.20" font-size="8.4" font-weight="normal" fill="#1a1a1a" textLength="22.60" lengthAdjust="spacingAndGlyphs">-5.0Kb</text>
<text x="281.10" y="497.20" font-size="8.4" font-weight="normal" fill="#1a1a1a" textLength="20.00" lengthAdjust="spacingAndGlyphs">5.0Kb</text>
<text x="250.80" y="498.50" font-size="11.2" font-weight="bold" fill="#000" text-anchor="middle" textLength="16.40" lengthAdjust="spacingAndGlyphs" stroke="#000" stroke-width="0.35" stroke-linejoin="round">TSS</text>
<text x="251.15" y="417.00" font-size="11" font-weight="bold" fill="#000" text-anchor="middle" letter-spacing="0.7">***</text>
<text x="90.10" y="255.10" font-size="11" font-weight="bold" fill="#231f20" textLength="71.30" lengthAdjust="spacingAndGlyphs" stroke="#231f20" stroke-width="0.22" stroke-linejoin="round">Pre-replication</text>
<text x="215.80" y="255.10" font-size="11" font-weight="bold" fill="#231f20" textLength="75.60" lengthAdjust="spacingAndGlyphs" stroke="#231f20" stroke-width="0.22" stroke-linejoin="round">Post-replication</text>
<text x="42.90" y="310.00" font-size="11" font-weight="bold" fill="#231f20" text-anchor="middle" textLength="62.40" lengthAdjust="spacingAndGlyphs" stroke="#231f20" stroke-width="0.22" stroke-linejoin="round" transform="rotate(-90 42.90 310.00)">H2AK119ub1</text>
<text x="56.60" y="310.00" font-size="11" font-weight="bold" fill="#231f20" text-anchor="middle" textLength="76.00" lengthAdjust="spacingAndGlyphs" stroke="#231f20" stroke-width="0.22" stroke-linejoin="round" transform="rotate(-90 56.60 310.00)">Log(ChIP/Input)</text>
<text x="42.90" y="443.50" font-size="11" font-weight="bold" fill="#231f20" text-anchor="middle" textLength="46.00" lengthAdjust="spacingAndGlyphs" stroke="#231f20" stroke-width="0.22" stroke-linejoin="round" transform="rotate(-90 42.90 443.50)">H3K4me3</text>
<text x="56.60" y="443.50" font-size="11" font-weight="bold" fill="#231f20" text-anchor="middle" textLength="76.00" lengthAdjust="spacingAndGlyphs" stroke="#231f20" stroke-width="0.22" stroke-linejoin="round" transform="rotate(-90 56.60 443.50)">Log(ChIP/Input)</text>
<line x1="77.00" y1="514.60" x2="96.00" y2="514.60" stroke="#e8463a" stroke-width="4.2" stroke-linecap="butt"/>
<text x="98.40" y="518.00" font-size="11" font-weight="bold" fill="#231f20" textLength="106.80" lengthAdjust="spacingAndGlyphs" stroke="#231f20" stroke-width="0.22" stroke-linejoin="round">USP21 sensitive genes</text>
<line x1="233.30" y1="514.60" x2="252.20" y2="514.60" stroke="#000" stroke-width="4.2" stroke-linecap="butt"/>
<text x="254.00" y="518.00" font-size="11" font-weight="bold" fill="#231f20" textLength="43.40" lengthAdjust="spacingAndGlyphs" stroke="#231f20" stroke-width="0.22" stroke-linejoin="round">All genes</text>
<rect x="471.40" y="332.40" width="19.00" height="87.10" fill="#fde4b8"/>
<clipPath id="c5"><rect x="436.4" y="332.4" width="90.0" height="87.10000000000002"/></clipPath><g clip-path="url(#c5)">
<path d="M435.4,376.9 L435.9,376.4 L436.3,375.8 L436.8,375.1 L437.2,374.4 L437.7,373.7 L438.2,373.3 L438.6,373.9 L439.1,375.7 L439.6,378.2 L440.0,380.6 L440.5,381.9 L440.9,381.3 L441.4,379.7 L441.9,378.1 L442.3,377.2 L442.8,377.1 L443.3,377.5 L443.7,378.1 L444.2,378.7 L444.6,379.7 L445.1,380.9 L445.6,382.2 L446.0,383.4 L446.5,384.0 L447.0,383.5 L447.4,382.1 L447.9,380.5 L448.3,379.0 L448.8,377.9 L449.3,377.6 L449.7,377.7 L450.2,378.0 L450.7,378.3 L451.1,378.6 L451.6,378.9 L452.0,379.1 L452.5,378.9 L453.0,378.1 L453.4,377.0 L453.9,375.9 L454.4,375.1 L454.8,374.9 L455.3,375.4 L455.7,376.0 L456.2,375.9 L456.7,374.7 L457.1,373.0 L457.6,371.3 L458.1,370.1 L458.5,370.2 L459.0,371.5 L459.4,373.3 L459.9,374.8 L460.4,375.9 L460.8,376.8 L461.3,377.5 L461.8,377.7 L462.2,376.8 L462.7,375.1 L463.1,373.4 L463.6,372.5 L464.1,372.7 L464.5,373.2 L465.0,373.7 L465.5,373.4 L465.9,371.6 L466.4,368.6 L466.8,365.7 L467.3,363.6 L467.8,362.3 L468.2,361.4 L468.7,360.9 L469.1,361.0 L469.6,361.4 L470.1,362.1 L470.5,363.4 L471.0,365.8 L471.5,368.4 L471.9,369.7 L472.4,369.3 L472.8,368.1 L473.3,366.7 L473.8,365.4 L474.2,364.4 L474.7,364.2 L475.2,364.5 L475.6,365.0 L476.1,365.6 L476.5,366.9 L477.0,369.0 L477.5,371.7 L477.9,374.5 L478.4,377.2 L478.9,380.0 L479.3,382.3 L479.8,384.1 L480.2,385.3 L480.7,385.9 L481.2,385.8 L481.6,385.1 L482.1,383.9 L482.6,382.2 L483.0,380.0 L483.5,377.6 L483.9,375.3 L484.4,373.4 L484.9,371.8 L485.3,370.7 L485.8,370.5 L486.3,370.7 L486.7,371.0 L487.2,371.1 L487.6,370.6 L488.1,369.6 L488.6,368.4 L489.0,367.0 L489.5,365.7 L490.0,364.4 L490.4,363.1 L490.9,362.3 L491.3,362.1 L491.8,362.6 L492.3,363.7 L492.7,365.3 L493.2,368.2 L493.7,372.0 L494.1,374.9 L494.6,375.5 L495.0,374.6 L495.5,373.5 L496.0,372.3 L496.4,371.3 L496.9,370.4 L497.3,369.5 L497.8,368.7 L498.3,368.1 L498.7,368.0 L499.2,368.1 L499.7,368.5 L500.1,368.7 L500.6,368.8 L501.0,368.6 L501.5,368.3 L502.0,368.3 L502.4,369.2 L502.9,370.9 L503.4,373.1 L503.8,376.1 L504.3,379.5 L504.7,381.9 L505.2,382.4 L505.7,381.9 L506.1,381.4 L506.6,381.8 L507.1,383.2 L507.5,384.8 L508.0,386.0 L508.4,386.3 L508.9,386.1 L509.4,385.7 L509.8,385.3 L510.3,384.5 L510.8,383.5 L511.2,382.3 L511.7,381.2 L512.1,380.1 L512.6,379.1 L513.1,378.2 L513.5,377.4 L514.0,377.1 L514.5,377.6 L514.9,378.6 L515.4,379.8 L515.8,380.8 L516.3,381.8 L516.8,382.7 L517.2,383.5 L517.7,384.2 L518.2,384.2 L518.6,383.3 L519.1,381.7 L519.5,380.1 L520.0,378.8 L520.5,378.2 L520.9,378.6 L521.4,379.5 L521.9,380.5 L522.3,381.2 L522.8,381.4 L523.2,381.2 L523.7,380.7 L524.2,380.2 L524.6,380.0 L525.1,380.0 L525.6,380.4 L526.0,380.8 L526.5,381.2 L526.9,381.6 L527.4,381.9" fill="none" stroke="#e8503a" stroke-width="3.1" stroke-linejoin="round" stroke-linecap="butt"/>
<path d="M435.4,380.3 L435.9,380.3 L436.3,380.3 L436.8,380.2 L437.2,380.2 L437.7,380.1 L438.2,380.1 L438.6,380.0 L439.1,380.0 L439.6,379.9 L440.0,379.9 L440.5,379.8 L440.9,379.8 L441.4,379.7 L441.9,379.7 L442.3,379.6 L442.8,379.6 L443.3,379.5 L443.7,379.5 L444.2,379.4 L444.6,379.4 L445.1,379.3 L445.6,379.3 L446.0,379.2 L446.5,379.1 L447.0,379.0 L447.4,378.9 L447.9,378.8 L448.3,378.7 L448.8,378.5 L449.3,378.4 L449.7,378.3 L450.2,378.1 L450.7,378.0 L451.1,377.8 L451.6,377.7 L452.0,377.6 L452.5,377.4 L453.0,377.3 L453.4,377.2 L453.9,377.0 L454.4,376.9 L454.8,376.8 L455.3,376.6 L455.7,376.5 L456.2,376.4 L456.7,376.3 L457.1,376.2 L457.6,376.0 L458.1,375.9 L458.5,375.8 L459.0,375.7 L459.4,375.6 L459.9,375.4 L460.4,375.3 L460.8,375.2 L461.3,375.1 L461.8,375.0 L462.2,374.8 L462.7,374.7 L463.1,374.6 L463.6,374.4 L464.1,374.3 L464.5,374.2 L465.0,374.0 L465.5,373.9 L465.9,373.8 L466.4,373.7 L466.8,373.5 L467.3,373.4 L467.8,373.3 L468.2,373.1 L468.7,373.0 L469.1,372.8 L469.6,372.7 L470.1,372.5 L470.5,372.4 L471.0,372.2 L471.5,372.1 L471.9,371.9 L472.4,371.8 L472.8,371.6 L473.3,371.4 L473.8,371.2 L474.2,371.0 L474.7,370.9 L475.2,370.8 L475.6,370.8 L476.1,370.9 L476.5,371.1 L477.0,371.4 L477.5,371.7 L477.9,372.1 L478.4,372.6 L478.9,373.2 L479.3,373.8 L479.8,374.4 L480.2,374.9 L480.7,375.3 L481.2,375.5 L481.6,375.5 L482.1,375.3 L482.6,374.9 L483.0,374.4 L483.5,373.9 L483.9,373.4 L484.4,372.9 L484.9,372.5 L485.3,372.1 L485.8,371.8 L486.3,371.6 L486.7,371.5 L487.2,371.5 L487.6,371.6 L488.1,371.7 L488.6,371.9 L489.0,372.0 L489.5,372.2 L490.0,372.4 L490.4,372.5 L490.9,372.8 L491.3,373.0 L491.8,373.2 L492.3,373.4 L492.7,373.6 L493.2,373.8 L493.7,374.0 L494.1,374.2 L494.6,374.4 L495.0,374.6 L495.5,374.7 L496.0,374.9 L496.4,375.0 L496.9,375.1 L497.3,375.2 L497.8,375.4 L498.3,375.5 L498.7,375.6 L499.2,375.8 L499.7,375.9 L500.1,376.0 L500.6,376.2 L501.0,376.3 L501.5,376.4 L502.0,376.5 L502.4,376.7 L502.9,376.8 L503.4,376.9 L503.8,377.0 L504.3,377.1 L504.7,377.3 L505.2,377.4 L505.7,377.5 L506.1,377.6 L506.6,377.7 L507.1,377.9 L507.5,378.0 L508.0,378.1 L508.4,378.2 L508.9,378.3 L509.4,378.4 L509.8,378.5 L510.3,378.5 L510.8,378.6 L511.2,378.7 L511.7,378.7 L512.1,378.7 L512.6,378.8 L513.1,378.8 L513.5,378.9 L514.0,378.9 L514.5,379.0 L514.9,379.0 L515.4,379.1 L515.8,379.1 L516.3,379.2 L516.8,379.2 L517.2,379.3 L517.7,379.3 L518.2,379.4 L518.6,379.4 L519.1,379.5 L519.5,379.5 L520.0,379.6 L520.5,379.6 L520.9,379.7 L521.4,379.7 L521.9,379.8 L522.3,379.8 L522.8,379.9 L523.2,379.9 L523.7,380.0 L524.2,380.0 L524.6,380.1 L525.1,380.1 L525.6,380.2 L526.0,380.2 L526.5,380.3 L526.9,380.3 L527.4,380.3" fill="none" stroke="#0a0a12" stroke-width="3.0" stroke-linejoin="round" stroke-linecap="butt"/>
</g>
<rect x="436.40" y="332.40" width="90.00" height="87.10" fill="none" stroke="#000" stroke-width="1.45"/>
<line x1="432.10" y1="341.50" x2="436.40" y2="341.50" stroke="#000" stroke-width="1.25" stroke-linecap="butt"/>
<text x="429.50" y="344.50" font-size="8.9" font-weight="normal" fill="#1a1a1a" text-anchor="end">2</text>
<line x1="432.10" y1="363.23" x2="436.40" y2="363.23" stroke="#000" stroke-width="1.25" stroke-linecap="butt"/>
<text x="429.50" y="366.23" font-size="8.9" font-weight="normal" fill="#1a1a1a" text-anchor="end">1.5</text>
<line x1="432.10" y1="384.97" x2="436.40" y2="384.97" stroke="#000" stroke-width="1.25" stroke-linecap="butt"/>
<text x="429.50" y="387.97" font-size="8.9" font-weight="normal" fill="#1a1a1a" text-anchor="end">1</text>
<line x1="432.10" y1="406.70" x2="436.40" y2="406.70" stroke="#000" stroke-width="1.25" stroke-linecap="butt"/>
<text x="429.50" y="409.70" font-size="8.9" font-weight="normal" fill="#1a1a1a" text-anchor="end">0.5</text>
<line x1="436.40" y1="419.50" x2="436.40" y2="423.90" stroke="#000" stroke-width="1.25" stroke-linecap="butt"/>
<line x1="481.40" y1="419.50" x2="481.40" y2="423.90" stroke="#000" stroke-width="1.25" stroke-linecap="butt"/>
<line x1="526.40" y1="419.50" x2="526.40" y2="423.90" stroke="#000" stroke-width="1.25" stroke-linecap="butt"/>
<text x="430.00" y="431.80" font-size="8.4" font-weight="normal" fill="#1a1a1a" textLength="22.60" lengthAdjust="spacingAndGlyphs">-5.0Kb</text>
<text x="510.00" y="431.80" font-size="8.4" font-weight="normal" fill="#1a1a1a" textLength="20.00" lengthAdjust="spacingAndGlyphs">5.0Kb</text>
<text x="481.70" y="432.90" font-size="11.2" font-weight="bold" fill="#000" text-anchor="middle" textLength="16.40" lengthAdjust="spacingAndGlyphs" stroke="#000" stroke-width="0.35" stroke-linejoin="round">TSS</text>
<rect x="596.10" y="332.40" width="18.70" height="87.10" fill="#fde4b8"/>
<clipPath id="c6"><rect x="560.9" y="332.4" width="90.39999999999998" height="87.10000000000002"/></clipPath><g clip-path="url(#c6)">
<path d="M560.9,416.8 L561.4,416.0 L561.9,414.3 L562.4,413.3 L562.9,414.0 L563.4,415.2 L563.9,415.8 L564.4,415.6 L564.9,415.6 L565.4,415.7 L565.9,415.3 L566.4,415.1 L566.9,414.4 L567.4,414.2 L567.9,414.9 L568.4,415.6 L568.9,415.6 L569.4,415.0 L569.9,414.4 L570.4,414.7 L570.9,416.0 L571.4,416.5 L571.9,416.3 L572.5,415.9 L573.0,415.6 L573.5,415.4 L574.0,415.7 L574.5,416.0 L575.0,416.3 L575.5,417.0 L576.0,417.6 L576.5,417.6 L577.0,417.5 L577.5,417.6 L578.0,417.9 L578.5,417.8 L579.0,417.1 L579.5,416.7 L580.0,416.7 L580.5,416.8 L581.0,416.1 L581.5,415.4 L582.0,415.7 L582.5,416.4 L583.0,416.6 L583.5,415.3 L584.0,414.3 L584.5,415.5 L585.0,417.3 L585.5,417.6 L586.0,416.5 L586.5,415.7 L587.0,415.6 L587.5,414.8 L588.0,414.0 L588.5,413.4 L589.0,412.6 L589.5,412.3 L590.0,412.2 L590.5,411.1 L591.0,410.3 L591.5,410.2 L592.0,409.8 L592.5,409.6 L593.0,409.3 L593.5,408.1 L594.0,406.4 L594.5,405.2 L595.1,405.2 L595.6,405.3 L596.1,404.0 L596.6,402.5 L597.1,401.8 L597.6,401.3 L598.1,400.1 L598.6,399.0 L599.1,398.1 L599.6,395.9 L600.1,393.7 L600.6,391.3 L601.1,387.8 L601.6,384.8 L602.1,383.1 L602.6,381.9 L603.1,380.5 L603.6,379.2 L604.1,378.5 L604.6,378.7 L605.1,379.6 L605.6,379.9 L606.1,378.5 L606.6,376.4 L607.1,376.5 L607.6,378.4 L608.1,380.1 L608.6,381.0 L609.1,381.6 L609.6,382.1 L610.1,382.3 L610.6,383.0 L611.1,385.5 L611.6,389.1 L612.1,392.0 L612.6,394.8 L613.1,396.9 L613.6,397.7 L614.1,398.2 L614.6,398.7 L615.1,399.6 L615.6,401.4 L616.1,403.6 L616.6,405.4 L617.1,407.0 L617.7,408.7 L618.2,410.1 L618.7,411.1 L619.2,411.7 L619.7,411.7 L620.2,411.9 L620.7,412.3 L621.2,412.5 L621.7,412.9 L622.2,413.6 L622.7,413.4 L623.2,413.0 L623.7,413.6 L624.2,414.2 L624.7,414.6 L625.2,413.8 L625.7,411.8 L626.2,410.9 L626.7,412.0 L627.2,413.8 L627.7,414.0 L628.2,413.7 L628.7,414.0 L629.2,413.9 L629.7,413.0 L630.2,412.2 L630.7,412.1 L631.2,412.2 L631.7,412.6 L632.2,413.0 L632.7,412.9 L633.2,412.5 L633.7,412.6 L634.2,413.2 L634.7,413.9 L635.2,413.4 L635.7,412.4 L636.2,413.1 L636.7,414.0 L637.2,413.5 L637.7,413.1 L638.2,413.5 L638.7,413.8 L639.2,414.3 L639.7,414.9 L640.3,415.4 L640.8,415.6 L641.3,415.3 L641.8,414.8 L642.3,414.2 L642.8,413.9 L643.3,414.1 L643.8,414.5 L644.3,414.2 L644.8,413.5 L645.3,414.3 L645.8,415.7 L646.3,415.7 L646.8,415.7 L647.3,415.6 L647.8,415.0 L648.3,414.3 L648.8,413.7 L649.3,413.3 L649.8,413.8 L650.3,414.3 L650.8,414.2 L651.3,414.0" fill="none" stroke="#e8503a" stroke-width="3.1" stroke-linejoin="round" stroke-linecap="butt"/>
<path d="M560.9,416.2 L561.4,416.2 L561.9,416.2 L562.4,416.2 L562.9,416.2 L563.4,416.2 L563.9,416.2 L564.4,416.2 L564.9,416.2 L565.4,416.1 L565.9,416.1 L566.4,416.1 L566.9,416.1 L567.4,416.1 L567.9,416.1 L568.4,416.1 L568.9,416.1 L569.4,416.1 L569.9,416.0 L570.4,416.0 L570.9,416.0 L571.4,416.0 L571.9,416.0 L572.5,416.0 L573.0,415.9 L573.5,415.9 L574.0,415.9 L574.5,415.9 L575.0,415.8 L575.5,415.8 L576.0,415.8 L576.5,415.8 L577.0,415.7 L577.5,415.7 L578.0,415.7 L578.5,415.6 L579.0,415.6 L579.5,415.6 L580.0,415.5 L580.5,415.5 L581.0,415.4 L581.5,415.4 L582.0,415.3 L582.5,415.2 L583.0,415.2 L583.5,415.1 L584.0,415.0 L584.5,415.0 L585.0,414.9 L585.5,414.8 L586.0,414.7 L586.5,414.6 L587.0,414.5 L587.5,414.3 L588.0,414.2 L588.5,414.1 L589.0,413.9 L589.5,413.7 L590.0,413.5 L590.5,413.3 L591.0,413.1 L591.5,412.9 L592.0,412.6 L592.5,412.3 L593.0,412.0 L593.5,411.6 L594.0,411.3 L594.5,410.8 L595.1,410.4 L595.6,409.9 L596.1,409.3 L596.6,408.7 L597.1,408.0 L597.6,407.3 L598.1,406.5 L598.6,405.7 L599.1,404.8 L599.6,403.9 L600.1,403.0 L600.6,402.0 L601.1,401.1 L601.6,400.1 L602.1,399.3 L602.6,398.5 L603.1,397.8 L603.6,397.2 L604.1,396.7 L604.6,396.4 L605.1,396.2 L605.6,396.1 L606.1,396.1 L606.6,396.1 L607.1,396.2 L607.6,396.4 L608.1,396.7 L608.6,397.2 L609.1,397.8 L609.6,398.5 L610.1,399.3 L610.6,400.1 L611.1,401.1 L611.6,402.0 L612.1,403.0 L612.6,403.9 L613.1,404.8 L613.6,405.7 L614.1,406.5 L614.6,407.3 L615.1,408.0 L615.6,408.7 L616.1,409.3 L616.6,409.9 L617.1,410.4 L617.7,410.8 L618.2,411.3 L618.7,411.6 L619.2,412.0 L619.7,412.3 L620.2,412.6 L620.7,412.9 L621.2,413.1 L621.7,413.3 L622.2,413.5 L622.7,413.7 L623.2,413.9 L623.7,414.1 L624.2,414.2 L624.7,414.3 L625.2,414.5 L625.7,414.6 L626.2,414.7 L626.7,414.8 L627.2,414.9 L627.7,415.0 L628.2,415.0 L628.7,415.1 L629.2,415.2 L629.7,415.2 L630.2,415.3 L630.7,415.4 L631.2,415.4 L631.7,415.5 L632.2,415.5 L632.7,415.6 L633.2,415.6 L633.7,415.6 L634.2,415.7 L634.7,415.7 L635.2,415.7 L635.7,415.8 L636.2,415.8 L636.7,415.8 L637.2,415.8 L637.7,415.9 L638.2,415.9 L638.7,415.9 L639.2,415.9 L639.7,416.0 L640.3,416.0 L640.8,416.0 L641.3,416.0 L641.8,416.0 L642.3,416.0 L642.8,416.1 L643.3,416.1 L643.8,416.1 L644.3,416.1 L644.8,416.1 L645.3,416.1 L645.8,416.1 L646.3,416.1 L646.8,416.1 L647.3,416.2 L647.8,416.2 L648.3,416.2 L648.8,416.2 L649.3,416.2 L649.8,416.2 L650.3,416.2 L650.8,416.2 L651.3,416.2" fill="none" stroke="#0a0a12" stroke-width="3.0" stroke-linejoin="round" stroke-linecap="butt"/>
</g>
<rect x="560.90" y="332.40" width="90.40" height="87.10" fill="none" stroke="#000" stroke-width="1.45"/>
<line x1="556.60" y1="341.50" x2="560.90" y2="341.50" stroke="#000" stroke-width="1.25" stroke-linecap="butt"/>
<text x="554.50" y="344.50" font-size="8.9" font-weight="normal" fill="#1a1a1a" text-anchor="end">2</text>
<line x1="556.60" y1="363.23" x2="560.90" y2="363.23" stroke="#000" stroke-width="1.25" stroke-linecap="butt"/>
<text x="554.50" y="366.23" font-size="8.9" font-weight="normal" fill="#1a1a1a" text-anchor="end">1.5</text>
<line x1="556.60" y1="384.97" x2="560.90" y2="384.97" stroke="#000" stroke-width="1.25" stroke-linecap="butt"/>
<text x="554.50" y="387.97" font-size="8.9" font-weight="normal" fill="#1a1a1a" text-anchor="end">1</text>
<line x1="556.60" y1="406.70" x2="560.90" y2="406.70" stroke="#000" stroke-width="1.25" stroke-linecap="butt"/>
<text x="554.50" y="409.70" font-size="8.9" font-weight="normal" fill="#1a1a1a" text-anchor="end">0.5</text>
<line x1="560.90" y1="419.50" x2="560.90" y2="423.90" stroke="#000" stroke-width="1.25" stroke-linecap="butt"/>
<line x1="606.10" y1="419.50" x2="606.10" y2="423.90" stroke="#000" stroke-width="1.25" stroke-linecap="butt"/>
<line x1="651.30" y1="419.50" x2="651.30" y2="423.90" stroke="#000" stroke-width="1.25" stroke-linecap="butt"/>
<text x="554.50" y="431.80" font-size="8.4" font-weight="normal" fill="#1a1a1a" textLength="22.60" lengthAdjust="spacingAndGlyphs">-5.0Kb</text>
<text x="634.90" y="431.80" font-size="8.4" font-weight="normal" fill="#1a1a1a" textLength="20.00" lengthAdjust="spacingAndGlyphs">5.0Kb</text>
<text x="606.40" y="432.90" font-size="11.2" font-weight="bold" fill="#000" text-anchor="middle" textLength="16.40" lengthAdjust="spacingAndGlyphs" stroke="#000" stroke-width="0.35" stroke-linejoin="round">TSS</text>
<text x="606.45" y="377.30" font-size="11" font-weight="bold" fill="#000" text-anchor="middle" letter-spacing="0.7">***</text>
<text x="449.20" y="324.90" font-size="11" font-weight="bold" fill="#231f20" textLength="71.00" lengthAdjust="spacingAndGlyphs" stroke="#231f20" stroke-width="0.22" stroke-linejoin="round">Pre-replication</text>
<text x="568.40" y="324.90" font-size="11" font-weight="bold" fill="#231f20" textLength="75.90" lengthAdjust="spacingAndGlyphs" stroke="#231f20" stroke-width="0.22" stroke-linejoin="round">Post-replication</text>
<text x="400.80" y="377.50" font-size="11" font-weight="bold" fill="#231f20" text-anchor="middle" textLength="114.50" lengthAdjust="spacingAndGlyphs" stroke="#231f20" stroke-width="0.22" stroke-linejoin="round" transform="rotate(-90 400.80 377.50)">Calibrated H2AK119ub1</text>
<text x="414.10" y="377.50" font-size="11" font-weight="bold" fill="#231f20" text-anchor="middle" textLength="28.20" lengthAdjust="spacingAndGlyphs" stroke="#231f20" stroke-width="0.22" stroke-linejoin="round" transform="rotate(-90 414.10 377.50)">signal</text>
<line x1="434.40" y1="459.70" x2="453.40" y2="459.70" stroke="#e8463a" stroke-width="4.2" stroke-linecap="butt"/>
<text x="455.30" y="463.00" font-size="11" font-weight="bold" fill="#231f20" textLength="106.80" lengthAdjust="spacingAndGlyphs" stroke="#231f20" stroke-width="0.22" stroke-linejoin="round">USP21 sensitive genes</text>
<line x1="590.00" y1="459.70" x2="609.00" y2="459.70" stroke="#000" stroke-width="4.2" stroke-linecap="butt"/>
<text x="611.60" y="463.00" font-size="11" font-weight="bold" fill="#231f20" textLength="43.40" lengthAdjust="spacingAndGlyphs" stroke="#231f20" stroke-width="0.22" stroke-linejoin="round">All genes</text>
<rect x="469.00" y="597.10" width="19.00" height="88.70" fill="#fde4b8"/>
<clipPath id="c7"><rect x="431.9" y="597.1" width="91.80000000000007" height="88.69999999999993"/></clipPath><g clip-path="url(#c7)">
<path d="M430.9,633.9 L431.4,633.3 L431.8,632.5 L432.3,631.6 L432.8,631.1 L433.3,632.1 L433.7,635.7 L434.2,640.2 L434.7,643.2 L435.1,643.7 L435.6,642.9 L436.1,641.9 L436.6,641.0 L437.0,640.7 L437.5,640.7 L438.0,641.0 L438.4,641.3 L438.9,641.2 L439.4,640.5 L439.9,639.5 L440.3,638.4 L440.8,637.2 L441.3,635.9 L441.7,634.3 L442.2,632.9 L442.7,631.9 L443.2,631.7 L443.6,631.9 L444.1,632.7 L444.6,634.2 L445.0,636.0 L445.5,637.8 L446.0,639.2 L446.5,639.5 L446.9,638.7 L447.4,637.4 L447.9,635.9 L448.3,634.3 L448.8,632.2 L449.3,630.0 L449.8,627.9 L450.2,626.4 L450.7,625.3 L451.2,624.9 L451.6,625.6 L452.1,627.1 L452.6,628.8 L453.1,629.8 L453.5,629.4 L454.0,628.1 L454.5,626.5 L454.9,625.3 L455.4,624.5 L455.9,624.0 L456.4,623.3 L456.8,621.9 L457.3,620.1 L457.8,618.8 L458.2,618.8 L458.7,620.2 L459.2,623.1 L459.7,627.6 L460.1,632.5 L460.6,636.6 L461.1,639.3 L461.5,639.9 L462.0,637.6 L462.5,633.8 L463.0,630.4 L463.4,628.4 L463.9,627.6 L464.4,627.6 L464.8,628.5 L465.3,630.0 L465.8,631.2 L466.3,631.1 L466.7,630.1 L467.2,628.6 L467.7,627.2 L468.1,626.2 L468.6,625.4 L469.1,624.7 L469.6,624.2 L470.0,624.1 L470.5,624.2 L471.0,624.4 L471.4,624.7 L471.9,625.3 L472.4,626.1 L472.9,627.0 L473.3,628.1 L473.8,629.7 L474.3,631.4 L474.7,633.2 L475.2,635.0 L475.7,636.9 L476.2,638.7 L476.6,640.5 L477.1,642.1 L477.6,643.2 L478.0,643.5 L478.5,642.8 L479.0,641.5 L479.4,640.1 L479.9,638.9 L480.4,637.6 L480.9,636.3 L481.3,635.0 L481.8,634.3 L482.3,634.9 L482.7,636.6 L483.2,638.6 L483.7,640.2 L484.2,641.1 L484.6,641.5 L485.1,641.1 L485.6,639.7 L486.0,637.7 L486.5,635.2 L487.0,632.3 L487.5,629.7 L487.9,627.8 L488.4,626.6 L488.9,625.7 L489.3,624.9 L489.8,624.2 L490.3,623.9 L490.8,624.3 L491.2,625.4 L491.7,626.6 L492.2,627.6 L492.6,628.0 L493.1,627.9 L493.6,628.0 L494.1,628.6 L494.5,630.2 L495.0,632.2 L495.5,634.3 L495.9,636.2 L496.4,638.0 L496.9,639.7 L497.4,640.7 L497.8,640.7 L498.3,640.0 L498.8,639.2 L499.2,638.0 L499.7,636.2 L500.2,633.6 L500.7,630.7 L501.1,628.3 L501.6,626.6 L502.1,625.2 L502.5,624.2 L503.0,624.1 L503.5,624.6 L504.0,625.5 L504.4,626.9 L504.9,629.0 L505.4,631.6 L505.8,633.7 L506.3,634.3 L506.8,633.2 L507.3,631.4 L507.7,629.7 L508.2,628.6 L508.7,628.0 L509.1,628.4 L509.6,629.9 L510.1,631.7 L510.6,632.5 L511.0,631.5 L511.5,630.2 L512.0,630.6 L512.4,633.6 L512.9,635.9 L513.4,634.4 L513.9,630.3 L514.3,626.3 L514.8,624.0 L515.3,623.4 L515.7,624.2 L516.2,626.2 L516.7,628.8 L517.2,631.2 L517.6,633.0 L518.1,634.1 L518.6,634.6 L519.0,633.9 L519.5,632.3 L520.0,630.2 L520.5,628.3 L520.9,626.8 L521.4,625.8 L521.9,625.3 L522.3,625.4 L522.8,626.0 L523.3,626.9 L523.8,627.8 L524.2,628.7 L524.7,629.4" fill="none" stroke="#e8503a" stroke-width="3.1" stroke-linejoin="round" stroke-linecap="butt"/>
<path d="M430.9,637.8 L431.4,637.8 L431.8,637.8 L432.3,637.7 L432.8,637.7 L433.3,637.7 L433.7,637.6 L434.2,637.6 L434.7,637.6 L435.1,637.5 L435.6,637.5 L436.1,637.4 L436.6,637.4 L437.0,637.3 L437.5,637.2 L438.0,637.1 L438.4,637.0 L438.9,636.9 L439.4,636.8 L439.9,636.7 L440.3,636.6 L440.8,636.5 L441.3,636.4 L441.7,636.3 L442.2,636.2 L442.7,636.1 L443.2,636.0 L443.6,635.9 L444.1,635.9 L444.6,635.8 L445.0,635.7 L445.5,635.6 L446.0,635.6 L446.5,635.5 L446.9,635.4 L447.4,635.3 L447.9,635.3 L448.3,635.2 L448.8,635.1 L449.3,635.0 L449.8,634.9 L450.2,634.8 L450.7,634.7 L451.2,634.6 L451.6,634.5 L452.1,634.4 L452.6,634.3 L453.1,634.2 L453.5,634.1 L454.0,633.9 L454.5,633.8 L454.9,633.7 L455.4,633.6 L455.9,633.5 L456.4,633.4 L456.8,633.3 L457.3,633.2 L457.8,633.1 L458.2,633.0 L458.7,632.9 L459.2,632.9 L459.7,632.8 L460.1,632.7 L460.6,632.6 L461.1,632.6 L461.5,632.5 L462.0,632.4 L462.5,632.3 L463.0,632.3 L463.4,632.2 L463.9,632.1 L464.4,632.1 L464.8,632.0 L465.3,632.0 L465.8,631.9 L466.3,631.9 L466.7,631.9 L467.2,631.9 L467.7,631.8 L468.1,631.8 L468.6,631.8 L469.1,631.8 L469.6,631.8 L470.0,631.8 L470.5,631.9 L471.0,632.0 L471.4,632.1 L471.9,632.3 L472.4,632.5 L472.9,632.8 L473.3,633.1 L473.8,633.6 L474.3,634.1 L474.7,634.6 L475.2,635.2 L475.7,635.7 L476.2,636.2 L476.6,636.6 L477.1,636.8 L477.6,636.8 L478.0,636.6 L478.5,636.1 L479.0,635.6 L479.4,635.0 L479.9,634.4 L480.4,633.8 L480.9,633.3 L481.3,632.8 L481.8,632.3 L482.3,632.0 L482.7,631.7 L483.2,631.6 L483.7,631.6 L484.2,631.7 L484.6,631.8 L485.1,631.9 L485.6,632.1 L486.0,632.2 L486.5,632.3 L487.0,632.5 L487.5,632.6 L487.9,632.7 L488.4,632.8 L488.9,632.9 L489.3,633.1 L489.8,633.2 L490.3,633.3 L490.8,633.4 L491.2,633.6 L491.7,633.7 L492.2,633.8 L492.6,633.9 L493.1,634.0 L493.6,634.2 L494.1,634.3 L494.5,634.4 L495.0,634.5 L495.5,634.6 L495.9,634.6 L496.4,634.7 L496.9,634.8 L497.4,634.9 L497.8,635.0 L498.3,635.1 L498.8,635.2 L499.2,635.3 L499.7,635.4 L500.2,635.5 L500.7,635.6 L501.1,635.6 L501.6,635.7 L502.1,635.8 L502.5,635.8 L503.0,635.9 L503.5,635.9 L504.0,636.0 L504.4,636.1 L504.9,636.1 L505.4,636.2 L505.8,636.2 L506.3,636.3 L506.8,636.3 L507.3,636.4 L507.7,636.4 L508.2,636.5 L508.7,636.6 L509.1,636.6 L509.6,636.7 L510.1,636.8 L510.6,636.8 L511.0,636.9 L511.5,637.0 L512.0,637.1 L512.4,637.2 L512.9,637.3 L513.4,637.4 L513.9,637.5 L514.3,637.6 L514.8,637.7 L515.3,637.8 L515.7,637.9 L516.2,638.0 L516.7,638.0 L517.2,638.1 L517.6,638.1 L518.1,638.1 L518.6,638.2 L519.0,638.2 L519.5,638.2 L520.0,638.2 L520.5,638.2 L520.9,638.2 L521.4,638.2 L521.9,638.2 L522.3,638.2 L522.8,638.2 L523.3,638.3 L523.8,638.3 L524.2,638.3 L524.7,638.3" fill="none" stroke="#0a0a12" stroke-width="3.0" stroke-linejoin="round" stroke-linecap="butt"/>
</g>
<rect x="431.90" y="597.10" width="91.80" height="88.70" fill="none" stroke="#000" stroke-width="1.45"/>
<line x1="427.60" y1="606.10" x2="431.90" y2="606.10" stroke="#000" stroke-width="1.25" stroke-linecap="butt"/>
<text x="425.50" y="609.10" font-size="8.9" font-weight="normal" fill="#1a1a1a" text-anchor="end">2</text>
<line x1="427.60" y1="628.33" x2="431.90" y2="628.33" stroke="#000" stroke-width="1.25" stroke-linecap="butt"/>
<text x="425.50" y="631.33" font-size="8.9" font-weight="normal" fill="#1a1a1a" text-anchor="end">1.5</text>
<line x1="427.60" y1="650.57" x2="431.90" y2="650.57" stroke="#000" stroke-width="1.25" stroke-linecap="butt"/>
<text x="425.50" y="653.57" font-size="8.9" font-weight="normal" fill="#1a1a1a" text-anchor="end">1</text>
<line x1="427.60" y1="672.80" x2="431.90" y2="672.80" stroke="#000" stroke-width="1.25" stroke-linecap="butt"/>
<text x="425.50" y="675.80" font-size="8.9" font-weight="normal" fill="#1a1a1a" text-anchor="end">0.5</text>
<line x1="431.90" y1="685.80" x2="431.90" y2="690.20" stroke="#000" stroke-width="1.25" stroke-linecap="butt"/>
<line x1="477.80" y1="685.80" x2="477.80" y2="690.20" stroke="#000" stroke-width="1.25" stroke-linecap="butt"/>
<line x1="523.70" y1="685.80" x2="523.70" y2="690.20" stroke="#000" stroke-width="1.25" stroke-linecap="butt"/>
<text x="427.90" y="698.00" font-size="8.4" font-weight="normal" fill="#1a1a1a" textLength="22.60" lengthAdjust="spacingAndGlyphs">-5.0Kb</text>
<text x="507.30" y="698.00" font-size="8.4" font-weight="normal" fill="#1a1a1a" textLength="20.00" lengthAdjust="spacingAndGlyphs">5.0Kb</text>
<text x="478.10" y="699.30" font-size="11.2" font-weight="bold" fill="#000" text-anchor="middle" textLength="16.40" lengthAdjust="spacingAndGlyphs" stroke="#000" stroke-width="0.35" stroke-linejoin="round">TSS</text>
<rect x="591.00" y="597.10" width="19.10" height="88.70" fill="#fde4b8"/>
<clipPath id="c8"><rect x="553.8" y="597.1" width="91.60000000000002" height="88.69999999999993"/></clipPath><g clip-path="url(#c8)">
<path d="M553.8,679.3 L554.3,679.0 L554.8,678.1 L555.3,677.9 L555.8,678.2 L556.3,679.0 L556.9,679.1 L557.4,678.1 L557.9,677.5 L558.4,678.0 L558.9,679.4 L559.4,680.5 L559.9,681.2 L560.4,681.6 L560.9,681.7 L561.4,680.6 L561.9,678.9 L562.5,678.3 L563.0,678.7 L563.5,679.0 L564.0,679.0 L564.5,678.4 L565.0,678.5 L565.5,679.9 L566.0,681.8 L566.5,683.0 L567.0,682.5 L567.5,680.6 L568.0,679.0 L568.6,678.4 L569.1,678.9 L569.6,680.1 L570.1,680.9 L570.6,681.1 L571.1,681.3 L571.6,681.1 L572.1,680.9 L572.6,680.4 L573.1,679.5 L573.6,679.0 L574.2,678.4 L574.7,678.1 L575.2,677.7 L575.7,678.0 L576.2,678.5 L576.7,677.9 L577.2,678.2 L577.7,679.7 L578.2,680.7 L578.7,680.6 L579.2,679.9 L579.8,679.3 L580.3,679.4 L580.8,679.1 L581.3,678.6 L581.8,678.3 L582.3,678.1 L582.8,678.1 L583.3,678.1 L583.8,677.7 L584.3,677.2 L584.8,676.5 L585.4,675.6 L585.9,674.6 L586.4,673.2 L586.9,671.6 L587.4,670.5 L587.9,669.8 L588.4,669.2 L588.9,668.3 L589.4,667.6 L589.9,666.2 L590.4,663.8 L590.9,663.0 L591.5,664.2 L592.0,665.3 L592.5,664.0 L593.0,661.2 L593.5,658.4 L594.0,656.7 L594.5,655.4 L595.0,654.0 L595.5,653.3 L596.0,653.9 L596.5,654.8 L597.1,655.0 L597.6,655.3 L598.1,656.7 L598.6,657.2 L599.1,656.7 L599.6,655.7 L600.1,655.3 L600.6,654.2 L601.1,652.7 L601.6,652.1 L602.1,651.8 L602.7,651.2 L603.2,650.9 L603.7,650.5 L604.2,651.2 L604.7,654.0 L605.2,656.5 L605.7,657.5 L606.2,658.3 L606.7,659.8 L607.2,661.6 L607.7,662.7 L608.3,663.9 L608.8,665.4 L609.3,667.3 L609.8,668.2 L610.3,668.4 L610.8,669.4 L611.3,670.3 L611.8,670.6 L612.3,672.4 L612.8,674.0 L613.3,673.7 L613.8,673.3 L614.4,673.9 L614.9,674.4 L615.4,674.2 L615.9,674.2 L616.4,675.8 L616.9,677.8 L617.4,678.9 L617.9,678.9 L618.4,678.0 L618.9,677.2 L619.4,676.7 L620.0,676.1 L620.5,675.6 L621.0,676.1 L621.5,677.0 L622.0,677.0 L622.5,676.9 L623.0,677.3 L623.5,678.0 L624.0,677.9 L624.5,677.5 L625.0,678.3 L625.6,679.4 L626.1,679.3 L626.6,678.4 L627.1,678.1 L627.6,678.7 L628.1,678.7 L628.6,677.8 L629.1,677.0 L629.6,676.6 L630.1,677.1 L630.6,678.3 L631.2,678.2 L631.7,677.2 L632.2,677.0 L632.7,677.5 L633.2,678.1 L633.7,678.9 L634.2,680.8 L634.7,683.0 L635.2,683.1 L635.7,682.4 L636.2,682.7 L636.7,682.3 L637.3,680.7 L637.8,679.0 L638.3,677.8 L638.8,677.6 L639.3,678.1 L639.8,678.0 L640.3,677.9 L640.8,678.3 L641.3,677.9 L641.8,677.6 L642.3,677.6 L642.9,677.5 L643.4,677.9 L643.9,678.3 L644.4,679.7 L644.9,680.9 L645.4,680.7" fill="none" stroke="#e8503a" stroke-width="3.1" stroke-linejoin="round" stroke-linecap="butt"/>
<path d="M553.8,680.6 L554.3,680.5 L554.8,680.5 L555.3,680.5 L555.8,680.5 L556.3,680.5 L556.9,680.5 L557.4,680.5 L557.9,680.5 L558.4,680.5 L558.9,680.5 L559.4,680.5 L559.9,680.4 L560.4,680.4 L560.9,680.4 L561.4,680.4 L561.9,680.4 L562.5,680.4 L563.0,680.4 L563.5,680.4 L564.0,680.3 L564.5,680.3 L565.0,680.3 L565.5,680.3 L566.0,680.3 L566.5,680.3 L567.0,680.2 L567.5,680.2 L568.0,680.2 L568.6,680.2 L569.1,680.1 L569.6,680.1 L570.1,680.1 L570.6,680.0 L571.1,680.0 L571.6,680.0 L572.1,679.9 L572.6,679.9 L573.1,679.9 L573.6,679.8 L574.2,679.8 L574.7,679.7 L575.2,679.7 L575.7,679.6 L576.2,679.6 L576.7,679.5 L577.2,679.4 L577.7,679.3 L578.2,679.3 L578.7,679.2 L579.2,679.1 L579.8,679.0 L580.3,678.9 L580.8,678.8 L581.3,678.6 L581.8,678.5 L582.3,678.4 L582.8,678.2 L583.3,678.0 L583.8,677.9 L584.3,677.7 L584.8,677.4 L585.4,677.2 L585.9,676.9 L586.4,676.7 L586.9,676.4 L587.4,676.0 L587.9,675.7 L588.4,675.3 L588.9,674.9 L589.4,674.4 L589.9,673.9 L590.4,673.4 L590.9,672.9 L591.5,672.3 L592.0,671.7 L592.5,671.1 L593.0,670.4 L593.5,669.8 L594.0,669.1 L594.5,668.5 L595.0,667.9 L595.5,667.4 L596.0,666.9 L596.5,666.5 L597.1,666.1 L597.6,665.8 L598.1,665.6 L598.6,665.5 L599.1,665.5 L599.6,665.5 L600.1,665.5 L600.6,665.5 L601.1,665.6 L601.6,665.8 L602.1,666.1 L602.7,666.5 L603.2,666.9 L603.7,667.4 L604.2,667.9 L604.7,668.5 L605.2,669.1 L605.7,669.8 L606.2,670.4 L606.7,671.1 L607.2,671.7 L607.7,672.3 L608.3,672.9 L608.8,673.4 L609.3,673.9 L609.8,674.4 L610.3,674.9 L610.8,675.3 L611.3,675.7 L611.8,676.0 L612.3,676.4 L612.8,676.7 L613.3,676.9 L613.8,677.2 L614.4,677.4 L614.9,677.7 L615.4,677.9 L615.9,678.0 L616.4,678.2 L616.9,678.4 L617.4,678.5 L617.9,678.6 L618.4,678.8 L618.9,678.9 L619.4,679.0 L620.0,679.1 L620.5,679.2 L621.0,679.3 L621.5,679.3 L622.0,679.4 L622.5,679.5 L623.0,679.6 L623.5,679.6 L624.0,679.7 L624.5,679.7 L625.0,679.8 L625.6,679.8 L626.1,679.9 L626.6,679.9 L627.1,679.9 L627.6,680.0 L628.1,680.0 L628.6,680.0 L629.1,680.1 L629.6,680.1 L630.1,680.1 L630.6,680.2 L631.2,680.2 L631.7,680.2 L632.2,680.2 L632.7,680.3 L633.2,680.3 L633.7,680.3 L634.2,680.3 L634.7,680.3 L635.2,680.3 L635.7,680.4 L636.2,680.4 L636.7,680.4 L637.3,680.4 L637.8,680.4 L638.3,680.4 L638.8,680.4 L639.3,680.4 L639.8,680.5 L640.3,680.5 L640.8,680.5 L641.3,680.5 L641.8,680.5 L642.3,680.5 L642.9,680.5 L643.4,680.5 L643.9,680.5 L644.4,680.5 L644.9,680.5 L645.4,680.6" fill="none" stroke="#0a0a12" stroke-width="3.0" stroke-linejoin="round" stroke-linecap="butt"/>
</g>
<rect x="553.80" y="597.10" width="91.60" height="88.70" fill="none" stroke="#000" stroke-width="1.45"/>
<line x1="549.50" y1="606.10" x2="553.80" y2="606.10" stroke="#000" stroke-width="1.25" stroke-linecap="butt"/>
<text x="547.50" y="609.10" font-size="8.9" font-weight="normal" fill="#1a1a1a" text-anchor="end">2</text>
<line x1="549.50" y1="628.33" x2="553.80" y2="628.33" stroke="#000" stroke-width="1.25" stroke-linecap="butt"/>
<text x="547.50" y="631.33" font-size="8.9" font-weight="normal" fill="#1a1a1a" text-anchor="end">1.5</text>
<line x1="549.50" y1="650.57" x2="553.80" y2="650.57" stroke="#000" stroke-width="1.25" stroke-linecap="butt"/>
<text x="547.50" y="653.57" font-size="8.9" font-weight="normal" fill="#1a1a1a" text-anchor="end">1</text>
<line x1="549.50" y1="672.80" x2="553.80" y2="672.80" stroke="#000" stroke-width="1.25" stroke-linecap="butt"/>
<text x="547.50" y="675.80" font-size="8.9" font-weight="normal" fill="#1a1a1a" text-anchor="end">0.5</text>
<line x1="553.80" y1="685.80" x2="553.80" y2="690.20" stroke="#000" stroke-width="1.25" stroke-linecap="butt"/>
<line x1="599.60" y1="685.80" x2="599.60" y2="690.20" stroke="#000" stroke-width="1.25" stroke-linecap="butt"/>
<line x1="645.40" y1="685.80" x2="645.40" y2="690.20" stroke="#000" stroke-width="1.25" stroke-linecap="butt"/>
<text x="549.80" y="698.00" font-size="8.4" font-weight="normal" fill="#1a1a1a" textLength="22.60" lengthAdjust="spacingAndGlyphs">-5.0Kb</text>
<text x="629.00" y="698.00" font-size="8.4" font-weight="normal" fill="#1a1a1a" textLength="20.00" lengthAdjust="spacingAndGlyphs">5.0Kb</text>
<text x="599.90" y="699.30" font-size="11.2" font-weight="bold" fill="#000" text-anchor="middle" textLength="16.40" lengthAdjust="spacingAndGlyphs" stroke="#000" stroke-width="0.35" stroke-linejoin="round">TSS</text>
<text x="601.75" y="647.80" font-size="11" font-weight="bold" fill="#000" text-anchor="middle" letter-spacing="0.7">***</text>
<rect x="468.80" y="727.60" width="19.10" height="88.20" fill="#fde4b8"/>
<clipPath id="c9"><rect x="432.1" y="727.6" width="92.0" height="88.19999999999993"/></clipPath><g clip-path="url(#c9)">
<path d="M432.1,806.7 L432.6,808.0 L433.1,807.7 L433.6,806.6 L434.1,805.4 L434.7,804.5 L435.2,803.8 L435.7,804.0 L436.2,805.2 L436.7,805.7 L437.2,804.5 L437.7,804.2 L438.2,805.2 L438.7,805.7 L439.3,805.6 L439.8,805.4 L440.3,804.8 L440.8,804.5 L441.3,804.3 L441.8,804.4 L442.3,804.5 L442.8,804.9 L443.3,805.1 L443.9,805.6 L444.4,805.6 L444.9,803.2 L445.4,801.1 L445.9,802.0 L446.4,803.0 L446.9,803.2 L447.4,804.6 L447.9,806.4 L448.5,806.9 L449.0,805.8 L449.5,804.9 L450.0,805.2 L450.5,805.7 L451.0,805.7 L451.5,805.2 L452.0,804.4 L452.5,804.0 L453.1,803.8 L453.6,803.1 L454.1,802.6 L454.6,802.0 L455.1,800.9 L455.6,800.3 L456.1,801.0 L456.6,802.7 L457.1,804.1 L457.7,803.9 L458.2,803.1 L458.7,802.3 L459.2,801.8 L459.7,801.4 L460.2,801.4 L460.7,802.3 L461.2,802.6 L461.7,802.5 L462.3,802.4 L462.8,802.7 L463.3,803.5 L463.8,804.2 L464.3,804.1 L464.8,802.7 L465.3,801.4 L465.8,800.8 L466.3,800.1 L466.9,798.8 L467.4,797.6 L467.9,798.0 L468.4,799.0 L468.9,799.6 L469.4,799.8 L469.9,799.8 L470.4,800.3 L470.9,800.6 L471.5,799.6 L472.0,799.6 L472.5,800.6 L473.0,800.9 L473.5,800.6 L474.0,800.8 L474.5,800.3 L475.0,798.3 L475.5,797.0 L476.1,797.0 L476.6,796.7 L477.1,796.5 L477.6,797.3 L478.1,798.7 L478.6,799.8 L479.1,800.6 L479.6,801.1 L480.1,800.9 L480.7,800.7 L481.2,801.0 L481.7,801.5 L482.2,801.5 L482.7,802.3 L483.2,803.5 L483.7,804.1 L484.2,805.2 L484.7,806.3 L485.3,805.8 L485.8,804.3 L486.3,803.6 L486.8,804.5 L487.3,804.8 L487.8,803.7 L488.3,802.6 L488.8,802.3 L489.3,802.0 L489.9,801.7 L490.4,801.5 L490.9,801.2 L491.4,801.7 L491.9,802.6 L492.4,803.2 L492.9,804.2 L493.4,805.4 L493.9,805.8 L494.5,805.4 L495.0,804.5 L495.5,803.8 L496.0,803.8 L496.5,804.1 L497.0,804.6 L497.5,806.1 L498.0,807.8 L498.5,808.8 L499.1,808.8 L499.6,808.3 L500.1,807.8 L500.6,807.3 L501.1,807.4 L501.6,807.2 L502.1,805.9 L502.6,805.4 L503.1,805.2 L503.7,804.5 L504.2,803.7 L504.7,803.7 L505.2,804.5 L505.7,805.3 L506.2,804.5 L506.7,802.8 L507.2,801.9 L507.7,801.1 L508.3,799.7 L508.8,799.2 L509.3,799.4 L509.8,799.3 L510.3,799.5 L510.8,800.4 L511.3,801.8 L511.8,802.4 L512.3,802.5 L512.9,802.0 L513.4,801.1 L513.9,800.8 L514.4,800.4 L514.9,799.4 L515.4,798.8 L515.9,799.6 L516.4,800.9 L516.9,800.4 L517.5,800.4 L518.0,801.0 L518.5,800.6 L519.0,800.3 L519.5,801.2 L520.0,802.9 L520.5,804.8 L521.0,805.9 L521.5,806.1 L522.1,806.7 L522.6,807.0 L523.1,806.6 L523.6,806.1 L524.1,805.2" fill="none" stroke="#e8503a" stroke-width="3.1" stroke-linejoin="round" stroke-linecap="butt"/>
<path d="M432.1,804.1 L432.6,804.2 L433.1,804.3 L433.6,804.3 L434.1,804.3 L434.7,804.2 L435.2,804.1 L435.7,804.0 L436.2,803.9 L436.7,803.8 L437.2,803.7 L437.7,803.7 L438.2,803.6 L438.7,803.5 L439.3,803.5 L439.8,803.5 L440.3,803.5 L440.8,803.5 L441.3,803.5 L441.8,803.5 L442.3,803.5 L442.8,803.5 L443.3,803.6 L443.9,803.7 L444.4,803.7 L444.9,803.7 L445.4,803.7 L445.9,803.7 L446.4,803.7 L446.9,803.6 L447.4,803.5 L447.9,803.5 L448.5,803.4 L449.0,803.4 L449.5,803.3 L450.0,803.2 L450.5,803.2 L451.0,803.1 L451.5,803.0 L452.0,803.0 L452.5,803.0 L453.1,803.0 L453.6,803.0 L454.1,803.0 L454.6,803.0 L455.1,803.0 L455.6,802.9 L456.1,802.9 L456.6,802.8 L457.1,802.7 L457.7,802.6 L458.2,802.5 L458.7,802.4 L459.2,802.4 L459.7,802.3 L460.2,802.2 L460.7,802.1 L461.2,802.0 L461.7,801.9 L462.3,801.9 L462.8,802.0 L463.3,802.0 L463.8,802.1 L464.3,802.2 L464.8,802.2 L465.3,802.2 L465.8,802.1 L466.3,802.0 L466.9,801.9 L467.4,801.9 L467.9,801.9 L468.4,801.9 L468.9,801.8 L469.4,801.8 L469.9,801.8 L470.4,801.8 L470.9,801.7 L471.5,801.7 L472.0,801.6 L472.5,801.5 L473.0,801.4 L473.5,801.2 L474.0,801.0 L474.5,800.9 L475.0,800.8 L475.5,800.7 L476.1,800.6 L476.6,800.6 L477.1,800.7 L477.6,800.8 L478.1,800.9 L478.6,801.0 L479.1,801.1 L479.6,801.3 L480.1,801.3 L480.7,801.4 L481.2,801.4 L481.7,801.5 L482.2,801.5 L482.7,801.6 L483.2,801.7 L483.7,801.8 L484.2,801.9 L484.7,801.9 L485.3,802.0 L485.8,802.0 L486.3,802.0 L486.8,802.0 L487.3,802.0 L487.8,801.9 L488.3,801.9 L488.8,801.9 L489.3,801.9 L489.9,801.9 L490.4,801.9 L490.9,801.9 L491.4,801.9 L491.9,801.9 L492.4,802.0 L492.9,802.0 L493.4,802.1 L493.9,802.1 L494.5,802.2 L495.0,802.2 L495.5,802.3 L496.0,802.3 L496.5,802.4 L497.0,802.5 L497.5,802.5 L498.0,802.5 L498.5,802.5 L499.1,802.5 L499.6,802.4 L500.1,802.4 L500.6,802.4 L501.1,802.4 L501.6,802.5 L502.1,802.6 L502.6,802.8 L503.1,802.9 L503.7,803.1 L504.2,803.2 L504.7,803.3 L505.2,803.3 L505.7,803.3 L506.2,803.2 L506.7,803.1 L507.2,803.1 L507.7,803.0 L508.3,802.9 L508.8,802.9 L509.3,803.0 L509.8,803.0 L510.3,803.1 L510.8,803.2 L511.3,803.3 L511.8,803.3 L512.3,803.4 L512.9,803.4 L513.4,803.4 L513.9,803.3 L514.4,803.3 L514.9,803.2 L515.4,803.2 L515.9,803.2 L516.4,803.2 L516.9,803.3 L517.5,803.4 L518.0,803.6 L518.5,803.7 L519.0,803.8 L519.5,803.8 L520.0,803.8 L520.5,803.9 L521.0,803.9 L521.5,803.9 L522.1,803.9 L522.6,803.9 L523.1,803.8 L523.6,803.7 L524.1,803.6" fill="none" stroke="#0a0a12" stroke-width="3.0" stroke-linejoin="round" stroke-linecap="butt"/>
</g>
<rect x="432.10" y="727.60" width="92.00" height="88.20" fill="none" stroke="#000" stroke-width="1.45"/>
<line x1="427.80" y1="736.20" x2="432.10" y2="736.20" stroke="#000" stroke-width="1.25" stroke-linecap="butt"/>
<text x="425.50" y="739.20" font-size="8.9" font-weight="normal" fill="#1a1a1a" text-anchor="end">2</text>
<line x1="427.80" y1="758.40" x2="432.10" y2="758.40" stroke="#000" stroke-width="1.25" stroke-linecap="butt"/>
<text x="425.50" y="761.40" font-size="8.9" font-weight="normal" fill="#1a1a1a" text-anchor="end">1.5</text>
<line x1="427.80" y1="780.60" x2="432.10" y2="780.60" stroke="#000" stroke-width="1.25" stroke-linecap="butt"/>
<text x="425.50" y="783.60" font-size="8.9" font-weight="normal" fill="#1a1a1a" text-anchor="end">1</text>
<line x1="427.80" y1="802.80" x2="432.10" y2="802.80" stroke="#000" stroke-width="1.25" stroke-linecap="butt"/>
<text x="425.50" y="805.80" font-size="8.9" font-weight="normal" fill="#1a1a1a" text-anchor="end">0.5</text>
<line x1="432.10" y1="815.80" x2="432.10" y2="820.20" stroke="#000" stroke-width="1.25" stroke-linecap="butt"/>
<line x1="478.10" y1="815.80" x2="478.10" y2="820.20" stroke="#000" stroke-width="1.25" stroke-linecap="butt"/>
<line x1="524.10" y1="815.80" x2="524.10" y2="820.20" stroke="#000" stroke-width="1.25" stroke-linecap="butt"/>
<text x="428.10" y="828.00" font-size="8.4" font-weight="normal" fill="#1a1a1a" textLength="22.60" lengthAdjust="spacingAndGlyphs">-5.0Kb</text>
<text x="507.70" y="828.00" font-size="8.4" font-weight="normal" fill="#1a1a1a" textLength="20.00" lengthAdjust="spacingAndGlyphs">5.0Kb</text>
<text x="478.40" y="829.30" font-size="11.2" font-weight="bold" fill="#000" text-anchor="middle" textLength="16.40" lengthAdjust="spacingAndGlyphs" stroke="#000" stroke-width="0.35" stroke-linejoin="round">TSS</text>
<rect x="591.10" y="727.60" width="19.20" height="88.20" fill="#fde4b8"/>
<clipPath id="c10"><rect x="553.7" y="727.6" width="92.5" height="88.19999999999993"/></clipPath><g clip-path="url(#c10)">
<path d="M553.7,812.6 L554.2,813.3 L554.7,813.5 L555.2,813.1 L555.8,812.7 L556.3,812.6 L556.8,812.8 L557.3,812.7 L557.8,812.6 L558.3,812.5 L558.8,812.5 L559.4,812.4 L559.9,812.2 L560.4,812.1 L560.9,811.8 L561.4,811.8 L561.9,812.2 L562.4,812.5 L563.0,812.5 L563.5,812.1 L564.0,811.9 L564.5,812.0 L565.0,812.1 L565.5,812.0 L566.0,811.7 L566.5,812.0 L567.1,812.4 L567.6,812.1 L568.1,811.9 L568.6,812.3 L569.1,812.6 L569.6,812.4 L570.1,812.1 L570.7,812.2 L571.2,812.3 L571.7,812.0 L572.2,811.6 L572.7,811.6 L573.2,812.1 L573.7,812.3 L574.3,812.2 L574.8,812.1 L575.3,812.1 L575.8,812.1 L576.3,812.0 L576.8,811.9 L577.3,811.8 L577.9,811.7 L578.4,811.7 L578.9,811.7 L579.4,811.8 L579.9,811.8 L580.4,811.7 L580.9,811.5 L581.5,811.4 L582.0,811.5 L582.5,811.4 L583.0,811.0 L583.5,810.7 L584.0,810.4 L584.5,810.3 L585.0,810.5 L585.6,810.2 L586.1,809.2 L586.6,808.4 L587.1,808.4 L587.6,808.6 L588.1,808.9 L588.6,809.0 L589.2,809.2 L589.7,809.7 L590.2,810.2 L590.7,809.9 L591.2,809.5 L591.7,809.4 L592.2,809.4 L592.8,808.8 L593.3,808.4 L593.8,808.1 L594.3,807.7 L594.8,807.3 L595.3,806.9 L595.8,806.7 L596.4,806.6 L596.9,806.5 L597.4,806.6 L597.9,806.6 L598.4,807.0 L598.9,807.5 L599.4,807.6 L600.0,807.4 L600.5,807.1 L601.0,807.1 L601.5,807.4 L602.0,807.8 L602.5,807.9 L603.0,807.8 L603.5,808.0 L604.1,808.4 L604.6,808.7 L605.1,808.8 L605.6,809.0 L606.1,809.6 L606.6,810.3 L607.1,811.1 L607.7,811.6 L608.2,811.8 L608.7,811.8 L609.2,811.7 L609.7,811.6 L610.2,811.3 L610.7,811.1 L611.3,810.9 L611.8,810.8 L612.3,810.9 L612.8,810.9 L613.3,810.9 L613.8,811.0 L614.3,810.9 L614.9,810.8 L615.4,810.7 L615.9,810.6 L616.4,810.4 L616.9,810.4 L617.4,810.4 L617.9,810.5 L618.5,810.4 L619.0,809.7 L619.5,809.0 L620.0,808.6 L620.5,808.8 L621.0,808.7 L621.5,808.5 L622.0,808.2 L622.6,808.3 L623.1,808.8 L623.6,809.1 L624.1,809.0 L624.6,808.8 L625.1,809.0 L625.6,809.6 L626.2,810.1 L626.7,810.6 L627.2,810.8 L627.7,810.7 L628.2,810.4 L628.7,810.5 L629.2,810.8 L629.8,810.8 L630.3,811.0 L630.8,811.3 L631.3,811.4 L631.8,811.6 L632.3,812.0 L632.8,812.2 L633.4,812.3 L633.9,812.3 L634.4,812.5 L634.9,812.9 L635.4,813.2 L635.9,813.5 L636.4,814.0 L637.0,814.3 L637.5,814.2 L638.0,813.9 L638.5,813.2 L639.0,812.6 L639.5,812.7 L640.0,813.0 L640.5,813.0 L641.1,813.2 L641.6,813.3 L642.1,813.3 L642.6,813.4 L643.1,813.2 L643.6,812.4 L644.1,811.9 L644.7,811.8 L645.2,811.5 L645.7,811.6 L646.2,811.7" fill="none" stroke="#e8503a" stroke-width="3.1" stroke-linejoin="round" stroke-linecap="butt"/>
<path d="M553.7,812.7 L554.2,812.7 L554.7,812.7 L555.2,812.7 L555.8,812.7 L556.3,812.7 L556.8,812.7 L557.3,812.7 L557.8,812.7 L558.3,812.7 L558.8,812.7 L559.4,812.7 L559.9,812.7 L560.4,812.7 L560.9,812.7 L561.4,812.7 L561.9,812.7 L562.4,812.7 L563.0,812.7 L563.5,812.7 L564.0,812.7 L564.5,812.7 L565.0,812.7 L565.5,812.7 L566.0,812.7 L566.5,812.7 L567.1,812.7 L567.6,812.7 L568.1,812.7 L568.6,812.6 L569.1,812.6 L569.6,812.6 L570.1,812.6 L570.7,812.6 L571.2,812.6 L571.7,812.6 L572.2,812.6 L572.7,812.6 L573.2,812.6 L573.7,812.6 L574.3,812.6 L574.8,812.6 L575.3,812.5 L575.8,812.5 L576.3,812.5 L576.8,812.5 L577.3,812.5 L577.9,812.5 L578.4,812.5 L578.9,812.4 L579.4,812.4 L579.9,812.4 L580.4,812.4 L580.9,812.3 L581.5,812.3 L582.0,812.3 L582.5,812.2 L583.0,812.2 L583.5,812.1 L584.0,812.1 L584.5,812.0 L585.0,812.0 L585.6,811.9 L586.1,811.8 L586.6,811.7 L587.1,811.6 L587.6,811.5 L588.1,811.4 L588.6,811.2 L589.2,811.1 L589.7,810.9 L590.2,810.7 L590.7,810.5 L591.2,810.3 L591.7,810.0 L592.2,809.8 L592.8,809.5 L593.3,809.2 L593.8,809.0 L594.3,808.7 L594.8,808.4 L595.3,808.2 L595.8,808.0 L596.4,807.8 L596.9,807.7 L597.4,807.7 L597.9,807.7 L598.4,807.8 L598.9,808.0 L599.4,808.2 L600.0,808.3 L600.5,808.2 L601.0,808.0 L601.5,807.8 L602.0,807.7 L602.5,807.7 L603.0,807.7 L603.5,807.8 L604.1,808.0 L604.6,808.2 L605.1,808.4 L605.6,808.7 L606.1,809.0 L606.6,809.2 L607.1,809.5 L607.7,809.8 L608.2,810.0 L608.7,810.3 L609.2,810.5 L609.7,810.7 L610.2,810.9 L610.7,811.1 L611.3,811.2 L611.8,811.4 L612.3,811.5 L612.8,811.6 L613.3,811.7 L613.8,811.8 L614.3,811.9 L614.9,812.0 L615.4,812.0 L615.9,812.1 L616.4,812.1 L616.9,812.2 L617.4,812.2 L617.9,812.3 L618.5,812.3 L619.0,812.3 L619.5,812.4 L620.0,812.4 L620.5,812.4 L621.0,812.4 L621.5,812.5 L622.0,812.5 L622.6,812.5 L623.1,812.5 L623.6,812.5 L624.1,812.5 L624.6,812.5 L625.1,812.6 L625.6,812.6 L626.2,812.6 L626.7,812.6 L627.2,812.6 L627.7,812.6 L628.2,812.6 L628.7,812.6 L629.2,812.6 L629.8,812.6 L630.3,812.6 L630.8,812.6 L631.3,812.6 L631.8,812.7 L632.3,812.7 L632.8,812.7 L633.4,812.7 L633.9,812.7 L634.4,812.7 L634.9,812.7 L635.4,812.7 L635.9,812.7 L636.4,812.7 L637.0,812.7 L637.5,812.7 L638.0,812.7 L638.5,812.7 L639.0,812.7 L639.5,812.7 L640.0,812.7 L640.5,812.7 L641.1,812.7 L641.6,812.7 L642.1,812.7 L642.6,812.7 L643.1,812.7 L643.6,812.7 L644.1,812.7 L644.7,812.7 L645.2,812.7 L645.7,812.7 L646.2,812.7" fill="none" stroke="#0a0a12" stroke-width="3.0" stroke-linejoin="round" stroke-linecap="butt"/>
</g>
<rect x="553.70" y="727.60" width="92.50" height="88.20" fill="none" stroke="#000" stroke-width="1.45"/>
<line x1="549.40" y1="736.20" x2="553.70" y2="736.20" stroke="#000" stroke-width="1.25" stroke-linecap="butt"/>
<text x="547.50" y="739.20" font-size="8.9" font-weight="normal" fill="#1a1a1a" text-anchor="end">2</text>
<line x1="549.40" y1="758.40" x2="553.70" y2="758.40" stroke="#000" stroke-width="1.25" stroke-linecap="butt"/>
<text x="547.50" y="761.40" font-size="8.9" font-weight="normal" fill="#1a1a1a" text-anchor="end">1.5</text>
<line x1="549.40" y1="780.60" x2="553.70" y2="780.60" stroke="#000" stroke-width="1.25" stroke-linecap="butt"/>
<text x="547.50" y="783.60" font-size="8.9" font-weight="normal" fill="#1a1a1a" text-anchor="end">1</text>
<line x1="549.40" y1="802.80" x2="553.70" y2="802.80" stroke="#000" stroke-width="1.25" stroke-linecap="butt"/>
<text x="547.50" y="805.80" font-size="8.9" font-weight="normal" fill="#1a1a1a" text-anchor="end">0.5</text>
<line x1="553.70" y1="815.80" x2="553.70" y2="820.20" stroke="#000" stroke-width="1.25" stroke-linecap="butt"/>
<line x1="599.95" y1="815.80" x2="599.95" y2="820.20" stroke="#000" stroke-width="1.25" stroke-linecap="butt"/>
<line x1="646.20" y1="815.80" x2="646.20" y2="820.20" stroke="#000" stroke-width="1.25" stroke-linecap="butt"/>
<text x="549.70" y="828.00" font-size="8.4" font-weight="normal" fill="#1a1a1a" textLength="22.60" lengthAdjust="spacingAndGlyphs">-5.0Kb</text>
<text x="629.80" y="828.00" font-size="8.4" font-weight="normal" fill="#1a1a1a" textLength="20.00" lengthAdjust="spacingAndGlyphs">5.0Kb</text>
<text x="600.25" y="829.30" font-size="11.2" font-weight="bold" fill="#000" text-anchor="middle" textLength="16.40" lengthAdjust="spacingAndGlyphs" stroke="#000" stroke-width="0.35" stroke-linejoin="round">TSS</text>
<text x="446.60" y="588.20" font-size="11" font-weight="bold" fill="#231f20" textLength="71.20" lengthAdjust="spacingAndGlyphs" stroke="#231f20" stroke-width="0.22" stroke-linejoin="round">Pre-replication</text>
<text x="565.80" y="588.20" font-size="11" font-weight="bold" fill="#231f20" textLength="76.20" lengthAdjust="spacingAndGlyphs" stroke="#231f20" stroke-width="0.22" stroke-linejoin="round">Post-replication</text>
<text x="393.90" y="640.00" font-size="11" font-weight="bold" fill="#231f20" text-anchor="middle" textLength="114.70" lengthAdjust="spacingAndGlyphs" stroke="#231f20" stroke-width="0.22" stroke-linejoin="round" transform="rotate(-90 393.90 640.00)">Calibrated H2AK119ub1</text>
<text x="407.10" y="640.50" font-size="11" font-weight="bold" fill="#231f20" text-anchor="middle" textLength="28.20" lengthAdjust="spacingAndGlyphs" stroke="#231f20" stroke-width="0.22" stroke-linejoin="round" transform="rotate(-90 407.10 640.50)">signal</text>
<text x="394.00" y="771.20" font-size="11" font-weight="bold" fill="#231f20" text-anchor="middle" textLength="114.70" lengthAdjust="spacingAndGlyphs" stroke="#231f20" stroke-width="0.22" stroke-linejoin="round" transform="rotate(-90 394.00 771.20)">Calibrated H2AK119ub1</text>
<text x="407.40" y="772.00" font-size="11" font-weight="bold" fill="#231f20" text-anchor="middle" textLength="28.20" lengthAdjust="spacingAndGlyphs" stroke="#231f20" stroke-width="0.22" stroke-linejoin="round" transform="rotate(-90 407.40 772.00)">signal</text>
<text x="650.00" y="637.60" font-size="11" font-weight="bold" fill="#231f20" textLength="36.00" lengthAdjust="spacingAndGlyphs" stroke="#231f20" stroke-width="0.22" stroke-linejoin="round">Control</text>
<text x="652.60" y="650.60" font-size="11" font-weight="bold" fill="#231f20" textLength="29.70" lengthAdjust="spacingAndGlyphs" stroke="#231f20" stroke-width="0.22" stroke-linejoin="round">sperm</text>
<text x="652.80" y="770.00" font-size="11" font-weight="bold" fill="#231f20" textLength="29.90" lengthAdjust="spacingAndGlyphs" stroke="#231f20" stroke-width="0.22" stroke-linejoin="round">USP21</text>
<text x="652.80" y="783.60" font-size="11" font-weight="bold" fill="#231f20" textLength="29.40" lengthAdjust="spacingAndGlyphs" stroke="#231f20" stroke-width="0.22" stroke-linejoin="round">sperm</text>
<line x1="431.00" y1="854.70" x2="449.60" y2="854.70" stroke="#e8463a" stroke-width="4.2" stroke-linecap="butt"/>
<text x="452.00" y="857.70" font-size="11" font-weight="bold" fill="#231f20" textLength="106.80" lengthAdjust="spacingAndGlyphs" stroke="#231f20" stroke-width="0.22" stroke-linejoin="round">USP21 sensitive genes</text>
<line x1="586.90" y1="854.70" x2="605.60" y2="854.70" stroke="#000" stroke-width="4.2" stroke-linecap="butt"/>
<text x="607.90" y="857.70" font-size="11" font-weight="bold" fill="#231f20" textLength="43.40" lengthAdjust="spacingAndGlyphs" stroke="#231f20" stroke-width="0.22" stroke-linejoin="round">All genes</text>
<text x="82.60" y="586.90" font-size="11" font-weight="bold" fill="#231f20" textLength="106.20" lengthAdjust="spacingAndGlyphs" stroke="#231f20" stroke-width="0.22" stroke-linejoin="round">USP21 sensitive genes</text>
<text x="107.70" y="595.80" font-size="11" font-weight="bold" fill="#231f20" textLength="54.80" lengthAdjust="spacingAndGlyphs" stroke="#231f20" stroke-width="0.22" stroke-linejoin="round">enrichment</text>
<line x1="102.00" y1="601.60" x2="102.00" y2="674.30" stroke="#000" stroke-width="1.5" stroke-linecap="butt"/>
<line x1="98.60" y1="606.50" x2="102.00" y2="606.50" stroke="#000" stroke-width="1.2" stroke-linecap="butt"/>
<text x="96.60" y="609.20" font-size="7.8" font-weight="normal" fill="#1a1a1a" text-anchor="end">12</text>
<line x1="98.60" y1="613.67" x2="102.00" y2="613.67" stroke="#000" stroke-width="1.2" stroke-linecap="butt"/>
<text x="96.60" y="616.37" font-size="7.8" font-weight="normal" fill="#1a1a1a" text-anchor="end">10</text>
<line x1="98.60" y1="620.83" x2="102.00" y2="620.83" stroke="#000" stroke-width="1.2" stroke-linecap="butt"/>
<text x="96.60" y="623.53" font-size="7.8" font-weight="normal" fill="#1a1a1a" text-anchor="end">8</text>
<line x1="98.60" y1="628.00" x2="102.00" y2="628.00" stroke="#000" stroke-width="1.2" stroke-linecap="butt"/>
<text x="96.60" y="630.70" font-size="7.8" font-weight="normal" fill="#1a1a1a" text-anchor="end">6</text>
<line x1="98.60" y1="635.17" x2="102.00" y2="635.17" stroke="#000" stroke-width="1.2" stroke-linecap="butt"/>
<text x="96.60" y="637.87" font-size="7.8" font-weight="normal" fill="#1a1a1a" text-anchor="end">4</text>
<line x1="98.60" y1="642.34" x2="102.00" y2="642.34" stroke="#000" stroke-width="1.2" stroke-linecap="butt"/>
<text x="96.60" y="645.04" font-size="7.8" font-weight="normal" fill="#1a1a1a" text-anchor="end">2</text>
<line x1="98.60" y1="649.50" x2="102.00" y2="649.50" stroke="#000" stroke-width="1.2" stroke-linecap="butt"/>
<text x="96.60" y="652.20" font-size="7.8" font-weight="normal" fill="#1a1a1a" text-anchor="end">0</text>
<line x1="98.60" y1="656.67" x2="102.00" y2="656.67" stroke="#000" stroke-width="1.2" stroke-linecap="butt"/>
<text x="96.60" y="659.37" font-size="7.8" font-weight="normal" fill="#1a1a1a" text-anchor="end">-2</text>
<line x1="98.60" y1="663.84" x2="102.00" y2="663.84" stroke="#000" stroke-width="1.2" stroke-linecap="butt"/>
<text x="96.60" y="666.54" font-size="7.8" font-weight="normal" fill="#1a1a1a" text-anchor="end">-4</text>
<line x1="98.60" y1="671.00" x2="102.00" y2="671.00" stroke="#000" stroke-width="1.2" stroke-linecap="butt"/>
<text x="96.60" y="673.70" font-size="7.8" font-weight="normal" fill="#1a1a1a" text-anchor="end">-6</text>
<text x="83.00" y="633.30" font-size="10.7" font-weight="bold" fill="#231f20" text-anchor="middle" textLength="35.50" lengthAdjust="spacingAndGlyphs" stroke="#231f20" stroke-width="0.22" stroke-linejoin="round" transform="rotate(-90 83.00 633.30)">Z-Score</text>
<rect x="103.80" y="649.90" width="18.60" height="19.40" fill="#ee3431" stroke="#2a2a2a" stroke-width="1"/>
<rect x="124.50" y="608.60" width="18.10" height="40.60" fill="#4fc1da" stroke="#2a2a2a" stroke-width="1"/>
<rect x="144.60" y="646.00" width="18.00" height="3.20" fill="#7f7f7f" stroke="#2a2a2a" stroke-width="1"/>
<text x="113.40" y="657.80" font-size="8.6" font-weight="bold" fill="#231f20" text-anchor="middle" stroke="#231f20" stroke-width="0.22" stroke-linejoin="round">22</text>
<text x="133.40" y="657.80" font-size="8.6" font-weight="normal" fill="#231f20" text-anchor="middle">83</text>
<text x="154.10" y="657.80" font-size="8.6" font-weight="normal" fill="#231f20" text-anchor="middle">8</text>
<text x="113.55" y="652.00" font-size="11" font-weight="bold" fill="#000" text-anchor="middle" letter-spacing="0.7">***</text>
<text x="133.75" y="611.00" font-size="11" font-weight="bold" fill="#000" text-anchor="middle" letter-spacing="0.7">***</text>
<text x="117.50" y="680.30" font-size="10.9" font-weight="bold" fill="#231f20" text-anchor="end" textLength="68.00" lengthAdjust="spacingAndGlyphs" stroke="#231f20" stroke-width="0.22" stroke-linejoin="round" transform="rotate(-45 117.50 680.30)">USP21 specific</text>
<text x="136.50" y="680.30" font-size="10.9" font-weight="bold" fill="#231f20" text-anchor="end" textLength="73.30" lengthAdjust="spacingAndGlyphs" stroke="#231f20" stroke-width="0.22" stroke-linejoin="round" transform="rotate(-45 136.50 680.30)">Control specific</text>
<text x="157.80" y="680.30" font-size="10.9" font-weight="bold" fill="#231f20" text-anchor="end" textLength="40.30" lengthAdjust="spacingAndGlyphs" stroke="#231f20" stroke-width="0.22" stroke-linejoin="round" transform="rotate(-45 157.80 680.30)">common</text>
<text x="78.50" y="750.00" font-size="11" font-weight="bold" fill="#231f20" textLength="97.50" lengthAdjust="spacingAndGlyphs" stroke="#231f20" stroke-width="0.22" stroke-linejoin="round">(H2AK119ub1 peaks</text>
<text x="80.20" y="763.50" font-size="11" font-weight="bold" fill="#231f20" textLength="96.40" lengthAdjust="spacingAndGlyphs" stroke="#231f20" stroke-width="0.22" stroke-linejoin="round">in replicated sperm)</text>
</svg>
</body></html>
